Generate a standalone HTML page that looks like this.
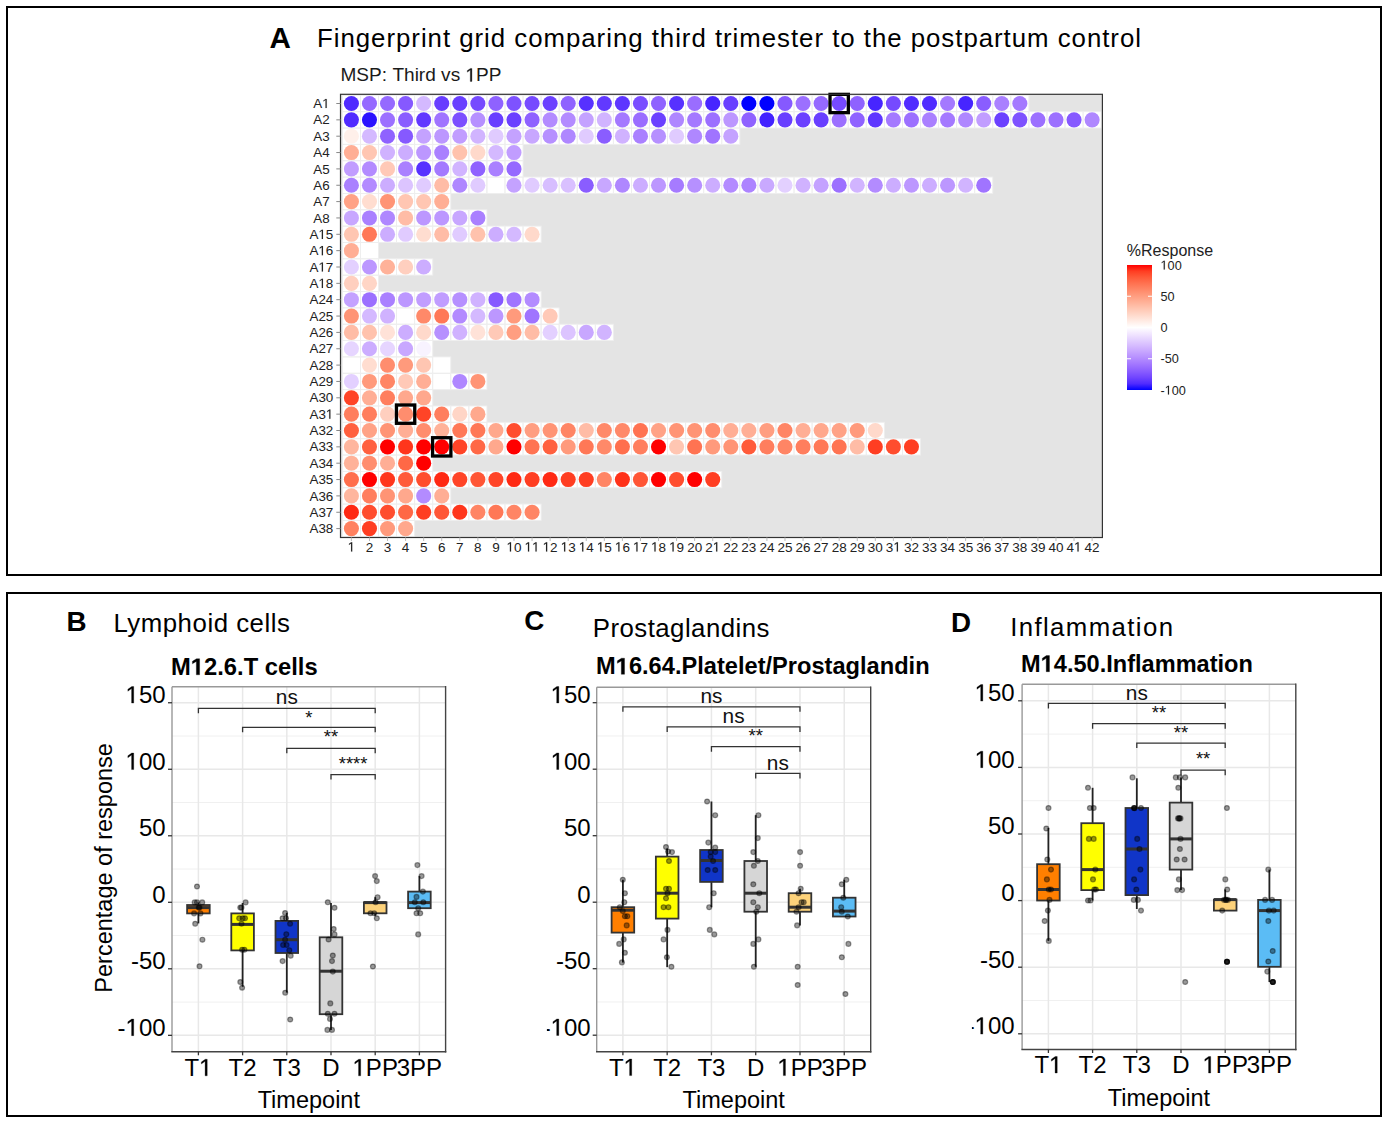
<!DOCTYPE html><html><head><meta charset="utf-8"><style>html,body{margin:0;padding:0;background:#fff;}svg{display:block;}text{font-family:"Liberation Sans",sans-serif;}</style></head><body>
<svg width="1389" height="1124" viewBox="0 0 1389 1124">
<defs><linearGradient id="lg" x1="0" y1="1" x2="0" y2="0">
<stop offset="0.000" stop-color="#0000ff"/>
<stop offset="0.050" stop-color="#502bff"/>
<stop offset="0.100" stop-color="#7145ff"/>
<stop offset="0.150" stop-color="#8a5dff"/>
<stop offset="0.200" stop-color="#a074ff"/>
<stop offset="0.250" stop-color="#b38bff"/>
<stop offset="0.300" stop-color="#c4a2ff"/>
<stop offset="0.350" stop-color="#d4b9ff"/>
<stop offset="0.400" stop-color="#e3d0ff"/>
<stop offset="0.450" stop-color="#f2e7ff"/>
<stop offset="0.500" stop-color="#ffffff"/>
<stop offset="0.550" stop-color="#ffece5"/>
<stop offset="0.600" stop-color="#ffd9cb"/>
<stop offset="0.650" stop-color="#ffc6b2"/>
<stop offset="0.700" stop-color="#ffb299"/>
<stop offset="0.750" stop-color="#ff9e81"/>
<stop offset="0.800" stop-color="#ff8969"/>
<stop offset="0.850" stop-color="#ff7352"/>
<stop offset="0.900" stop-color="#ff5b3a"/>
<stop offset="0.950" stop-color="#ff3e22"/>
<stop offset="1.000" stop-color="#ff0000"/>
</linearGradient></defs>
<rect x="0" y="0" width="1389" height="1124" fill="#fff"/>
<rect x="7" y="7" width="1374" height="568" fill="none" stroke="#000" stroke-width="2"/>
<rect x="7" y="593" width="1374" height="523" fill="none" stroke="#000" stroke-width="2"/>
<text x="269.5" y="47.6" font-size="29.6" font-weight="bold" fill="#000">A</text>
<text x="317" y="46.5" font-size="25.8" fill="#000" textLength="824" lengthAdjust="spacing">Fingerprint grid comparing third trimester to the postpartum control</text>
<g transform="translate(340.50,81.40) scale(1.0139,1)"><text x="0.00 15.66 28.20 40.74 51.19 62.67 73.13 77.30 83.56 99.24 108.64 133.72 146.26" y="0" font-size="18.8" fill="#1a1a1a">MSP:ThirdvsPP</text><path transform="translate(123.26,0) scale(0.00918,-0.00918)" d="M515 0L515 1237L197 1010L197 1180L530 1409L696 1409L696 0Z" fill="#1a1a1a" stroke="#1a1a1a" stroke-width="0.3" vector-effect="non-scaling-stroke"/></g>
<rect x="340.5" y="94.3" width="761.9000000000001" height="443.2" fill="#e4e4e4"/>
<rect x="342.37" y="95.33" width="686.51" height="16.35" fill="#fff"/>
<rect x="342.37" y="111.67" width="758.77" height="16.35" fill="#fff"/>
<rect x="342.37" y="128.02" width="397.45" height="16.35" fill="#fff"/>
<rect x="342.37" y="144.38" width="180.66" height="16.35" fill="#fff"/>
<rect x="342.37" y="160.72" width="180.66" height="16.35" fill="#fff"/>
<rect x="342.37" y="177.07" width="650.38" height="16.35" fill="#fff"/>
<rect x="342.37" y="193.43" width="108.40" height="16.35" fill="#fff"/>
<rect x="342.37" y="209.78" width="144.53" height="16.35" fill="#fff"/>
<rect x="342.37" y="226.12" width="198.73" height="16.35" fill="#fff"/>
<rect x="342.37" y="242.47" width="36.13" height="16.35" fill="#fff"/>
<rect x="342.37" y="258.82" width="90.33" height="16.35" fill="#fff"/>
<rect x="342.37" y="275.18" width="36.13" height="16.35" fill="#fff"/>
<rect x="342.37" y="291.53" width="198.73" height="16.35" fill="#fff"/>
<rect x="342.37" y="307.88" width="216.79" height="16.35" fill="#fff"/>
<rect x="342.37" y="324.23" width="270.99" height="16.35" fill="#fff"/>
<rect x="342.37" y="340.57" width="90.33" height="16.35" fill="#fff"/>
<rect x="342.37" y="356.93" width="108.40" height="16.35" fill="#fff"/>
<rect x="342.37" y="373.28" width="144.53" height="16.35" fill="#fff"/>
<rect x="342.37" y="389.62" width="90.33" height="16.35" fill="#fff"/>
<rect x="342.37" y="405.98" width="144.53" height="16.35" fill="#fff"/>
<rect x="342.37" y="422.32" width="541.98" height="16.35" fill="#fff"/>
<rect x="342.37" y="438.68" width="578.11" height="16.35" fill="#fff"/>
<rect x="342.37" y="455.03" width="90.33" height="16.35" fill="#fff"/>
<rect x="342.37" y="471.38" width="379.39" height="16.35" fill="#fff"/>
<rect x="342.37" y="487.73" width="108.40" height="16.35" fill="#fff"/>
<rect x="342.37" y="504.07" width="198.73" height="16.35" fill="#fff"/>
<rect x="342.37" y="520.43" width="72.26" height="16.35" fill="#fff"/>
<rect x="342.37" y="95.33" width="18.07" height="16.35" fill="none" stroke="#eeeeee" stroke-width="0.9"/>
<rect x="360.43" y="95.33" width="18.07" height="16.35" fill="none" stroke="#eeeeee" stroke-width="0.9"/>
<rect x="378.50" y="95.33" width="18.07" height="16.35" fill="none" stroke="#eeeeee" stroke-width="0.9"/>
<rect x="396.56" y="95.33" width="18.07" height="16.35" fill="none" stroke="#eeeeee" stroke-width="0.9"/>
<rect x="414.63" y="95.33" width="18.07" height="16.35" fill="none" stroke="#eeeeee" stroke-width="0.9"/>
<rect x="432.70" y="95.33" width="18.07" height="16.35" fill="none" stroke="#eeeeee" stroke-width="0.9"/>
<rect x="450.76" y="95.33" width="18.07" height="16.35" fill="none" stroke="#eeeeee" stroke-width="0.9"/>
<rect x="468.83" y="95.33" width="18.07" height="16.35" fill="none" stroke="#eeeeee" stroke-width="0.9"/>
<rect x="486.89" y="95.33" width="18.07" height="16.35" fill="none" stroke="#eeeeee" stroke-width="0.9"/>
<rect x="504.96" y="95.33" width="18.07" height="16.35" fill="none" stroke="#eeeeee" stroke-width="0.9"/>
<rect x="523.03" y="95.33" width="18.07" height="16.35" fill="none" stroke="#eeeeee" stroke-width="0.9"/>
<rect x="541.09" y="95.33" width="18.07" height="16.35" fill="none" stroke="#eeeeee" stroke-width="0.9"/>
<rect x="559.16" y="95.33" width="18.07" height="16.35" fill="none" stroke="#eeeeee" stroke-width="0.9"/>
<rect x="577.22" y="95.33" width="18.07" height="16.35" fill="none" stroke="#eeeeee" stroke-width="0.9"/>
<rect x="595.29" y="95.33" width="18.07" height="16.35" fill="none" stroke="#eeeeee" stroke-width="0.9"/>
<rect x="613.36" y="95.33" width="18.07" height="16.35" fill="none" stroke="#eeeeee" stroke-width="0.9"/>
<rect x="631.42" y="95.33" width="18.07" height="16.35" fill="none" stroke="#eeeeee" stroke-width="0.9"/>
<rect x="649.49" y="95.33" width="18.07" height="16.35" fill="none" stroke="#eeeeee" stroke-width="0.9"/>
<rect x="667.55" y="95.33" width="18.07" height="16.35" fill="none" stroke="#eeeeee" stroke-width="0.9"/>
<rect x="685.62" y="95.33" width="18.07" height="16.35" fill="none" stroke="#eeeeee" stroke-width="0.9"/>
<rect x="703.69" y="95.33" width="18.07" height="16.35" fill="none" stroke="#eeeeee" stroke-width="0.9"/>
<rect x="721.75" y="95.33" width="18.07" height="16.35" fill="none" stroke="#eeeeee" stroke-width="0.9"/>
<rect x="739.82" y="95.33" width="18.07" height="16.35" fill="none" stroke="#eeeeee" stroke-width="0.9"/>
<rect x="757.88" y="95.33" width="18.07" height="16.35" fill="none" stroke="#eeeeee" stroke-width="0.9"/>
<rect x="775.95" y="95.33" width="18.07" height="16.35" fill="none" stroke="#eeeeee" stroke-width="0.9"/>
<rect x="794.02" y="95.33" width="18.07" height="16.35" fill="none" stroke="#eeeeee" stroke-width="0.9"/>
<rect x="812.08" y="95.33" width="18.07" height="16.35" fill="none" stroke="#eeeeee" stroke-width="0.9"/>
<rect x="830.15" y="95.33" width="18.07" height="16.35" fill="none" stroke="#eeeeee" stroke-width="0.9"/>
<rect x="848.21" y="95.33" width="18.07" height="16.35" fill="none" stroke="#eeeeee" stroke-width="0.9"/>
<rect x="866.28" y="95.33" width="18.07" height="16.35" fill="none" stroke="#eeeeee" stroke-width="0.9"/>
<rect x="884.35" y="95.33" width="18.07" height="16.35" fill="none" stroke="#eeeeee" stroke-width="0.9"/>
<rect x="902.41" y="95.33" width="18.07" height="16.35" fill="none" stroke="#eeeeee" stroke-width="0.9"/>
<rect x="920.48" y="95.33" width="18.07" height="16.35" fill="none" stroke="#eeeeee" stroke-width="0.9"/>
<rect x="938.54" y="95.33" width="18.07" height="16.35" fill="none" stroke="#eeeeee" stroke-width="0.9"/>
<rect x="956.61" y="95.33" width="18.07" height="16.35" fill="none" stroke="#eeeeee" stroke-width="0.9"/>
<rect x="974.68" y="95.33" width="18.07" height="16.35" fill="none" stroke="#eeeeee" stroke-width="0.9"/>
<rect x="992.74" y="95.33" width="18.07" height="16.35" fill="none" stroke="#eeeeee" stroke-width="0.9"/>
<rect x="1010.81" y="95.33" width="18.07" height="16.35" fill="none" stroke="#eeeeee" stroke-width="0.9"/>
<rect x="342.37" y="111.67" width="18.07" height="16.35" fill="none" stroke="#eeeeee" stroke-width="0.9"/>
<rect x="360.43" y="111.67" width="18.07" height="16.35" fill="none" stroke="#eeeeee" stroke-width="0.9"/>
<rect x="378.50" y="111.67" width="18.07" height="16.35" fill="none" stroke="#eeeeee" stroke-width="0.9"/>
<rect x="396.56" y="111.67" width="18.07" height="16.35" fill="none" stroke="#eeeeee" stroke-width="0.9"/>
<rect x="414.63" y="111.67" width="18.07" height="16.35" fill="none" stroke="#eeeeee" stroke-width="0.9"/>
<rect x="432.70" y="111.67" width="18.07" height="16.35" fill="none" stroke="#eeeeee" stroke-width="0.9"/>
<rect x="450.76" y="111.67" width="18.07" height="16.35" fill="none" stroke="#eeeeee" stroke-width="0.9"/>
<rect x="468.83" y="111.67" width="18.07" height="16.35" fill="none" stroke="#eeeeee" stroke-width="0.9"/>
<rect x="486.89" y="111.67" width="18.07" height="16.35" fill="none" stroke="#eeeeee" stroke-width="0.9"/>
<rect x="504.96" y="111.67" width="18.07" height="16.35" fill="none" stroke="#eeeeee" stroke-width="0.9"/>
<rect x="523.03" y="111.67" width="18.07" height="16.35" fill="none" stroke="#eeeeee" stroke-width="0.9"/>
<rect x="541.09" y="111.67" width="18.07" height="16.35" fill="none" stroke="#eeeeee" stroke-width="0.9"/>
<rect x="559.16" y="111.67" width="18.07" height="16.35" fill="none" stroke="#eeeeee" stroke-width="0.9"/>
<rect x="577.22" y="111.67" width="18.07" height="16.35" fill="none" stroke="#eeeeee" stroke-width="0.9"/>
<rect x="595.29" y="111.67" width="18.07" height="16.35" fill="none" stroke="#eeeeee" stroke-width="0.9"/>
<rect x="613.36" y="111.67" width="18.07" height="16.35" fill="none" stroke="#eeeeee" stroke-width="0.9"/>
<rect x="631.42" y="111.67" width="18.07" height="16.35" fill="none" stroke="#eeeeee" stroke-width="0.9"/>
<rect x="649.49" y="111.67" width="18.07" height="16.35" fill="none" stroke="#eeeeee" stroke-width="0.9"/>
<rect x="667.55" y="111.67" width="18.07" height="16.35" fill="none" stroke="#eeeeee" stroke-width="0.9"/>
<rect x="685.62" y="111.67" width="18.07" height="16.35" fill="none" stroke="#eeeeee" stroke-width="0.9"/>
<rect x="703.69" y="111.67" width="18.07" height="16.35" fill="none" stroke="#eeeeee" stroke-width="0.9"/>
<rect x="721.75" y="111.67" width="18.07" height="16.35" fill="none" stroke="#eeeeee" stroke-width="0.9"/>
<rect x="739.82" y="111.67" width="18.07" height="16.35" fill="none" stroke="#eeeeee" stroke-width="0.9"/>
<rect x="757.88" y="111.67" width="18.07" height="16.35" fill="none" stroke="#eeeeee" stroke-width="0.9"/>
<rect x="775.95" y="111.67" width="18.07" height="16.35" fill="none" stroke="#eeeeee" stroke-width="0.9"/>
<rect x="794.02" y="111.67" width="18.07" height="16.35" fill="none" stroke="#eeeeee" stroke-width="0.9"/>
<rect x="812.08" y="111.67" width="18.07" height="16.35" fill="none" stroke="#eeeeee" stroke-width="0.9"/>
<rect x="830.15" y="111.67" width="18.07" height="16.35" fill="none" stroke="#eeeeee" stroke-width="0.9"/>
<rect x="848.21" y="111.67" width="18.07" height="16.35" fill="none" stroke="#eeeeee" stroke-width="0.9"/>
<rect x="866.28" y="111.67" width="18.07" height="16.35" fill="none" stroke="#eeeeee" stroke-width="0.9"/>
<rect x="884.35" y="111.67" width="18.07" height="16.35" fill="none" stroke="#eeeeee" stroke-width="0.9"/>
<rect x="902.41" y="111.67" width="18.07" height="16.35" fill="none" stroke="#eeeeee" stroke-width="0.9"/>
<rect x="920.48" y="111.67" width="18.07" height="16.35" fill="none" stroke="#eeeeee" stroke-width="0.9"/>
<rect x="938.54" y="111.67" width="18.07" height="16.35" fill="none" stroke="#eeeeee" stroke-width="0.9"/>
<rect x="956.61" y="111.67" width="18.07" height="16.35" fill="none" stroke="#eeeeee" stroke-width="0.9"/>
<rect x="974.68" y="111.67" width="18.07" height="16.35" fill="none" stroke="#eeeeee" stroke-width="0.9"/>
<rect x="992.74" y="111.67" width="18.07" height="16.35" fill="none" stroke="#eeeeee" stroke-width="0.9"/>
<rect x="1010.81" y="111.67" width="18.07" height="16.35" fill="none" stroke="#eeeeee" stroke-width="0.9"/>
<rect x="1028.88" y="111.67" width="18.07" height="16.35" fill="none" stroke="#eeeeee" stroke-width="0.9"/>
<rect x="1046.94" y="111.67" width="18.07" height="16.35" fill="none" stroke="#eeeeee" stroke-width="0.9"/>
<rect x="1065.01" y="111.67" width="18.07" height="16.35" fill="none" stroke="#eeeeee" stroke-width="0.9"/>
<rect x="1083.07" y="111.67" width="18.07" height="16.35" fill="none" stroke="#eeeeee" stroke-width="0.9"/>
<rect x="342.37" y="128.02" width="18.07" height="16.35" fill="none" stroke="#eeeeee" stroke-width="0.9"/>
<rect x="360.43" y="128.02" width="18.07" height="16.35" fill="none" stroke="#eeeeee" stroke-width="0.9"/>
<rect x="378.50" y="128.02" width="18.07" height="16.35" fill="none" stroke="#eeeeee" stroke-width="0.9"/>
<rect x="396.56" y="128.02" width="18.07" height="16.35" fill="none" stroke="#eeeeee" stroke-width="0.9"/>
<rect x="414.63" y="128.02" width="18.07" height="16.35" fill="none" stroke="#eeeeee" stroke-width="0.9"/>
<rect x="432.70" y="128.02" width="18.07" height="16.35" fill="none" stroke="#eeeeee" stroke-width="0.9"/>
<rect x="450.76" y="128.02" width="18.07" height="16.35" fill="none" stroke="#eeeeee" stroke-width="0.9"/>
<rect x="468.83" y="128.02" width="18.07" height="16.35" fill="none" stroke="#eeeeee" stroke-width="0.9"/>
<rect x="486.89" y="128.02" width="18.07" height="16.35" fill="none" stroke="#eeeeee" stroke-width="0.9"/>
<rect x="504.96" y="128.02" width="18.07" height="16.35" fill="none" stroke="#eeeeee" stroke-width="0.9"/>
<rect x="523.03" y="128.02" width="18.07" height="16.35" fill="none" stroke="#eeeeee" stroke-width="0.9"/>
<rect x="541.09" y="128.02" width="18.07" height="16.35" fill="none" stroke="#eeeeee" stroke-width="0.9"/>
<rect x="559.16" y="128.02" width="18.07" height="16.35" fill="none" stroke="#eeeeee" stroke-width="0.9"/>
<rect x="577.22" y="128.02" width="18.07" height="16.35" fill="none" stroke="#eeeeee" stroke-width="0.9"/>
<rect x="595.29" y="128.02" width="18.07" height="16.35" fill="none" stroke="#eeeeee" stroke-width="0.9"/>
<rect x="613.36" y="128.02" width="18.07" height="16.35" fill="none" stroke="#eeeeee" stroke-width="0.9"/>
<rect x="631.42" y="128.02" width="18.07" height="16.35" fill="none" stroke="#eeeeee" stroke-width="0.9"/>
<rect x="649.49" y="128.02" width="18.07" height="16.35" fill="none" stroke="#eeeeee" stroke-width="0.9"/>
<rect x="667.55" y="128.02" width="18.07" height="16.35" fill="none" stroke="#eeeeee" stroke-width="0.9"/>
<rect x="685.62" y="128.02" width="18.07" height="16.35" fill="none" stroke="#eeeeee" stroke-width="0.9"/>
<rect x="703.69" y="128.02" width="18.07" height="16.35" fill="none" stroke="#eeeeee" stroke-width="0.9"/>
<rect x="721.75" y="128.02" width="18.07" height="16.35" fill="none" stroke="#eeeeee" stroke-width="0.9"/>
<rect x="342.37" y="144.38" width="18.07" height="16.35" fill="none" stroke="#eeeeee" stroke-width="0.9"/>
<rect x="360.43" y="144.38" width="18.07" height="16.35" fill="none" stroke="#eeeeee" stroke-width="0.9"/>
<rect x="378.50" y="144.38" width="18.07" height="16.35" fill="none" stroke="#eeeeee" stroke-width="0.9"/>
<rect x="396.56" y="144.38" width="18.07" height="16.35" fill="none" stroke="#eeeeee" stroke-width="0.9"/>
<rect x="414.63" y="144.38" width="18.07" height="16.35" fill="none" stroke="#eeeeee" stroke-width="0.9"/>
<rect x="432.70" y="144.38" width="18.07" height="16.35" fill="none" stroke="#eeeeee" stroke-width="0.9"/>
<rect x="450.76" y="144.38" width="18.07" height="16.35" fill="none" stroke="#eeeeee" stroke-width="0.9"/>
<rect x="468.83" y="144.38" width="18.07" height="16.35" fill="none" stroke="#eeeeee" stroke-width="0.9"/>
<rect x="486.89" y="144.38" width="18.07" height="16.35" fill="none" stroke="#eeeeee" stroke-width="0.9"/>
<rect x="504.96" y="144.38" width="18.07" height="16.35" fill="none" stroke="#eeeeee" stroke-width="0.9"/>
<rect x="342.37" y="160.72" width="18.07" height="16.35" fill="none" stroke="#eeeeee" stroke-width="0.9"/>
<rect x="360.43" y="160.72" width="18.07" height="16.35" fill="none" stroke="#eeeeee" stroke-width="0.9"/>
<rect x="378.50" y="160.72" width="18.07" height="16.35" fill="none" stroke="#eeeeee" stroke-width="0.9"/>
<rect x="396.56" y="160.72" width="18.07" height="16.35" fill="none" stroke="#eeeeee" stroke-width="0.9"/>
<rect x="414.63" y="160.72" width="18.07" height="16.35" fill="none" stroke="#eeeeee" stroke-width="0.9"/>
<rect x="432.70" y="160.72" width="18.07" height="16.35" fill="none" stroke="#eeeeee" stroke-width="0.9"/>
<rect x="450.76" y="160.72" width="18.07" height="16.35" fill="none" stroke="#eeeeee" stroke-width="0.9"/>
<rect x="468.83" y="160.72" width="18.07" height="16.35" fill="none" stroke="#eeeeee" stroke-width="0.9"/>
<rect x="486.89" y="160.72" width="18.07" height="16.35" fill="none" stroke="#eeeeee" stroke-width="0.9"/>
<rect x="504.96" y="160.72" width="18.07" height="16.35" fill="none" stroke="#eeeeee" stroke-width="0.9"/>
<rect x="342.37" y="177.07" width="18.07" height="16.35" fill="none" stroke="#eeeeee" stroke-width="0.9"/>
<rect x="360.43" y="177.07" width="18.07" height="16.35" fill="none" stroke="#eeeeee" stroke-width="0.9"/>
<rect x="378.50" y="177.07" width="18.07" height="16.35" fill="none" stroke="#eeeeee" stroke-width="0.9"/>
<rect x="396.56" y="177.07" width="18.07" height="16.35" fill="none" stroke="#eeeeee" stroke-width="0.9"/>
<rect x="414.63" y="177.07" width="18.07" height="16.35" fill="none" stroke="#eeeeee" stroke-width="0.9"/>
<rect x="432.70" y="177.07" width="18.07" height="16.35" fill="none" stroke="#eeeeee" stroke-width="0.9"/>
<rect x="450.76" y="177.07" width="18.07" height="16.35" fill="none" stroke="#eeeeee" stroke-width="0.9"/>
<rect x="468.83" y="177.07" width="18.07" height="16.35" fill="none" stroke="#eeeeee" stroke-width="0.9"/>
<rect x="486.89" y="177.07" width="18.07" height="16.35" fill="none" stroke="#eeeeee" stroke-width="0.9"/>
<rect x="504.96" y="177.07" width="18.07" height="16.35" fill="none" stroke="#eeeeee" stroke-width="0.9"/>
<rect x="523.03" y="177.07" width="18.07" height="16.35" fill="none" stroke="#eeeeee" stroke-width="0.9"/>
<rect x="541.09" y="177.07" width="18.07" height="16.35" fill="none" stroke="#eeeeee" stroke-width="0.9"/>
<rect x="559.16" y="177.07" width="18.07" height="16.35" fill="none" stroke="#eeeeee" stroke-width="0.9"/>
<rect x="577.22" y="177.07" width="18.07" height="16.35" fill="none" stroke="#eeeeee" stroke-width="0.9"/>
<rect x="595.29" y="177.07" width="18.07" height="16.35" fill="none" stroke="#eeeeee" stroke-width="0.9"/>
<rect x="613.36" y="177.07" width="18.07" height="16.35" fill="none" stroke="#eeeeee" stroke-width="0.9"/>
<rect x="631.42" y="177.07" width="18.07" height="16.35" fill="none" stroke="#eeeeee" stroke-width="0.9"/>
<rect x="649.49" y="177.07" width="18.07" height="16.35" fill="none" stroke="#eeeeee" stroke-width="0.9"/>
<rect x="667.55" y="177.07" width="18.07" height="16.35" fill="none" stroke="#eeeeee" stroke-width="0.9"/>
<rect x="685.62" y="177.07" width="18.07" height="16.35" fill="none" stroke="#eeeeee" stroke-width="0.9"/>
<rect x="703.69" y="177.07" width="18.07" height="16.35" fill="none" stroke="#eeeeee" stroke-width="0.9"/>
<rect x="721.75" y="177.07" width="18.07" height="16.35" fill="none" stroke="#eeeeee" stroke-width="0.9"/>
<rect x="739.82" y="177.07" width="18.07" height="16.35" fill="none" stroke="#eeeeee" stroke-width="0.9"/>
<rect x="757.88" y="177.07" width="18.07" height="16.35" fill="none" stroke="#eeeeee" stroke-width="0.9"/>
<rect x="775.95" y="177.07" width="18.07" height="16.35" fill="none" stroke="#eeeeee" stroke-width="0.9"/>
<rect x="794.02" y="177.07" width="18.07" height="16.35" fill="none" stroke="#eeeeee" stroke-width="0.9"/>
<rect x="812.08" y="177.07" width="18.07" height="16.35" fill="none" stroke="#eeeeee" stroke-width="0.9"/>
<rect x="830.15" y="177.07" width="18.07" height="16.35" fill="none" stroke="#eeeeee" stroke-width="0.9"/>
<rect x="848.21" y="177.07" width="18.07" height="16.35" fill="none" stroke="#eeeeee" stroke-width="0.9"/>
<rect x="866.28" y="177.07" width="18.07" height="16.35" fill="none" stroke="#eeeeee" stroke-width="0.9"/>
<rect x="884.35" y="177.07" width="18.07" height="16.35" fill="none" stroke="#eeeeee" stroke-width="0.9"/>
<rect x="902.41" y="177.07" width="18.07" height="16.35" fill="none" stroke="#eeeeee" stroke-width="0.9"/>
<rect x="920.48" y="177.07" width="18.07" height="16.35" fill="none" stroke="#eeeeee" stroke-width="0.9"/>
<rect x="938.54" y="177.07" width="18.07" height="16.35" fill="none" stroke="#eeeeee" stroke-width="0.9"/>
<rect x="956.61" y="177.07" width="18.07" height="16.35" fill="none" stroke="#eeeeee" stroke-width="0.9"/>
<rect x="974.68" y="177.07" width="18.07" height="16.35" fill="none" stroke="#eeeeee" stroke-width="0.9"/>
<rect x="342.37" y="193.43" width="18.07" height="16.35" fill="none" stroke="#eeeeee" stroke-width="0.9"/>
<rect x="360.43" y="193.43" width="18.07" height="16.35" fill="none" stroke="#eeeeee" stroke-width="0.9"/>
<rect x="378.50" y="193.43" width="18.07" height="16.35" fill="none" stroke="#eeeeee" stroke-width="0.9"/>
<rect x="396.56" y="193.43" width="18.07" height="16.35" fill="none" stroke="#eeeeee" stroke-width="0.9"/>
<rect x="414.63" y="193.43" width="18.07" height="16.35" fill="none" stroke="#eeeeee" stroke-width="0.9"/>
<rect x="432.70" y="193.43" width="18.07" height="16.35" fill="none" stroke="#eeeeee" stroke-width="0.9"/>
<rect x="342.37" y="209.78" width="18.07" height="16.35" fill="none" stroke="#eeeeee" stroke-width="0.9"/>
<rect x="360.43" y="209.78" width="18.07" height="16.35" fill="none" stroke="#eeeeee" stroke-width="0.9"/>
<rect x="378.50" y="209.78" width="18.07" height="16.35" fill="none" stroke="#eeeeee" stroke-width="0.9"/>
<rect x="396.56" y="209.78" width="18.07" height="16.35" fill="none" stroke="#eeeeee" stroke-width="0.9"/>
<rect x="414.63" y="209.78" width="18.07" height="16.35" fill="none" stroke="#eeeeee" stroke-width="0.9"/>
<rect x="432.70" y="209.78" width="18.07" height="16.35" fill="none" stroke="#eeeeee" stroke-width="0.9"/>
<rect x="450.76" y="209.78" width="18.07" height="16.35" fill="none" stroke="#eeeeee" stroke-width="0.9"/>
<rect x="468.83" y="209.78" width="18.07" height="16.35" fill="none" stroke="#eeeeee" stroke-width="0.9"/>
<rect x="342.37" y="226.12" width="18.07" height="16.35" fill="none" stroke="#eeeeee" stroke-width="0.9"/>
<rect x="360.43" y="226.12" width="18.07" height="16.35" fill="none" stroke="#eeeeee" stroke-width="0.9"/>
<rect x="378.50" y="226.12" width="18.07" height="16.35" fill="none" stroke="#eeeeee" stroke-width="0.9"/>
<rect x="396.56" y="226.12" width="18.07" height="16.35" fill="none" stroke="#eeeeee" stroke-width="0.9"/>
<rect x="414.63" y="226.12" width="18.07" height="16.35" fill="none" stroke="#eeeeee" stroke-width="0.9"/>
<rect x="432.70" y="226.12" width="18.07" height="16.35" fill="none" stroke="#eeeeee" stroke-width="0.9"/>
<rect x="450.76" y="226.12" width="18.07" height="16.35" fill="none" stroke="#eeeeee" stroke-width="0.9"/>
<rect x="468.83" y="226.12" width="18.07" height="16.35" fill="none" stroke="#eeeeee" stroke-width="0.9"/>
<rect x="486.89" y="226.12" width="18.07" height="16.35" fill="none" stroke="#eeeeee" stroke-width="0.9"/>
<rect x="504.96" y="226.12" width="18.07" height="16.35" fill="none" stroke="#eeeeee" stroke-width="0.9"/>
<rect x="523.03" y="226.12" width="18.07" height="16.35" fill="none" stroke="#eeeeee" stroke-width="0.9"/>
<rect x="342.37" y="242.47" width="18.07" height="16.35" fill="none" stroke="#eeeeee" stroke-width="0.9"/>
<rect x="360.43" y="242.47" width="18.07" height="16.35" fill="none" stroke="#eeeeee" stroke-width="0.9"/>
<rect x="342.37" y="258.82" width="18.07" height="16.35" fill="none" stroke="#eeeeee" stroke-width="0.9"/>
<rect x="360.43" y="258.82" width="18.07" height="16.35" fill="none" stroke="#eeeeee" stroke-width="0.9"/>
<rect x="378.50" y="258.82" width="18.07" height="16.35" fill="none" stroke="#eeeeee" stroke-width="0.9"/>
<rect x="396.56" y="258.82" width="18.07" height="16.35" fill="none" stroke="#eeeeee" stroke-width="0.9"/>
<rect x="414.63" y="258.82" width="18.07" height="16.35" fill="none" stroke="#eeeeee" stroke-width="0.9"/>
<rect x="342.37" y="275.18" width="18.07" height="16.35" fill="none" stroke="#eeeeee" stroke-width="0.9"/>
<rect x="360.43" y="275.18" width="18.07" height="16.35" fill="none" stroke="#eeeeee" stroke-width="0.9"/>
<rect x="342.37" y="291.53" width="18.07" height="16.35" fill="none" stroke="#eeeeee" stroke-width="0.9"/>
<rect x="360.43" y="291.53" width="18.07" height="16.35" fill="none" stroke="#eeeeee" stroke-width="0.9"/>
<rect x="378.50" y="291.53" width="18.07" height="16.35" fill="none" stroke="#eeeeee" stroke-width="0.9"/>
<rect x="396.56" y="291.53" width="18.07" height="16.35" fill="none" stroke="#eeeeee" stroke-width="0.9"/>
<rect x="414.63" y="291.53" width="18.07" height="16.35" fill="none" stroke="#eeeeee" stroke-width="0.9"/>
<rect x="432.70" y="291.53" width="18.07" height="16.35" fill="none" stroke="#eeeeee" stroke-width="0.9"/>
<rect x="450.76" y="291.53" width="18.07" height="16.35" fill="none" stroke="#eeeeee" stroke-width="0.9"/>
<rect x="468.83" y="291.53" width="18.07" height="16.35" fill="none" stroke="#eeeeee" stroke-width="0.9"/>
<rect x="486.89" y="291.53" width="18.07" height="16.35" fill="none" stroke="#eeeeee" stroke-width="0.9"/>
<rect x="504.96" y="291.53" width="18.07" height="16.35" fill="none" stroke="#eeeeee" stroke-width="0.9"/>
<rect x="523.03" y="291.53" width="18.07" height="16.35" fill="none" stroke="#eeeeee" stroke-width="0.9"/>
<rect x="342.37" y="307.88" width="18.07" height="16.35" fill="none" stroke="#eeeeee" stroke-width="0.9"/>
<rect x="360.43" y="307.88" width="18.07" height="16.35" fill="none" stroke="#eeeeee" stroke-width="0.9"/>
<rect x="378.50" y="307.88" width="18.07" height="16.35" fill="none" stroke="#eeeeee" stroke-width="0.9"/>
<rect x="396.56" y="307.88" width="18.07" height="16.35" fill="none" stroke="#eeeeee" stroke-width="0.9"/>
<rect x="414.63" y="307.88" width="18.07" height="16.35" fill="none" stroke="#eeeeee" stroke-width="0.9"/>
<rect x="432.70" y="307.88" width="18.07" height="16.35" fill="none" stroke="#eeeeee" stroke-width="0.9"/>
<rect x="450.76" y="307.88" width="18.07" height="16.35" fill="none" stroke="#eeeeee" stroke-width="0.9"/>
<rect x="468.83" y="307.88" width="18.07" height="16.35" fill="none" stroke="#eeeeee" stroke-width="0.9"/>
<rect x="486.89" y="307.88" width="18.07" height="16.35" fill="none" stroke="#eeeeee" stroke-width="0.9"/>
<rect x="504.96" y="307.88" width="18.07" height="16.35" fill="none" stroke="#eeeeee" stroke-width="0.9"/>
<rect x="523.03" y="307.88" width="18.07" height="16.35" fill="none" stroke="#eeeeee" stroke-width="0.9"/>
<rect x="541.09" y="307.88" width="18.07" height="16.35" fill="none" stroke="#eeeeee" stroke-width="0.9"/>
<rect x="342.37" y="324.23" width="18.07" height="16.35" fill="none" stroke="#eeeeee" stroke-width="0.9"/>
<rect x="360.43" y="324.23" width="18.07" height="16.35" fill="none" stroke="#eeeeee" stroke-width="0.9"/>
<rect x="378.50" y="324.23" width="18.07" height="16.35" fill="none" stroke="#eeeeee" stroke-width="0.9"/>
<rect x="396.56" y="324.23" width="18.07" height="16.35" fill="none" stroke="#eeeeee" stroke-width="0.9"/>
<rect x="414.63" y="324.23" width="18.07" height="16.35" fill="none" stroke="#eeeeee" stroke-width="0.9"/>
<rect x="432.70" y="324.23" width="18.07" height="16.35" fill="none" stroke="#eeeeee" stroke-width="0.9"/>
<rect x="450.76" y="324.23" width="18.07" height="16.35" fill="none" stroke="#eeeeee" stroke-width="0.9"/>
<rect x="468.83" y="324.23" width="18.07" height="16.35" fill="none" stroke="#eeeeee" stroke-width="0.9"/>
<rect x="486.89" y="324.23" width="18.07" height="16.35" fill="none" stroke="#eeeeee" stroke-width="0.9"/>
<rect x="504.96" y="324.23" width="18.07" height="16.35" fill="none" stroke="#eeeeee" stroke-width="0.9"/>
<rect x="523.03" y="324.23" width="18.07" height="16.35" fill="none" stroke="#eeeeee" stroke-width="0.9"/>
<rect x="541.09" y="324.23" width="18.07" height="16.35" fill="none" stroke="#eeeeee" stroke-width="0.9"/>
<rect x="559.16" y="324.23" width="18.07" height="16.35" fill="none" stroke="#eeeeee" stroke-width="0.9"/>
<rect x="577.22" y="324.23" width="18.07" height="16.35" fill="none" stroke="#eeeeee" stroke-width="0.9"/>
<rect x="595.29" y="324.23" width="18.07" height="16.35" fill="none" stroke="#eeeeee" stroke-width="0.9"/>
<rect x="342.37" y="340.57" width="18.07" height="16.35" fill="none" stroke="#eeeeee" stroke-width="0.9"/>
<rect x="360.43" y="340.57" width="18.07" height="16.35" fill="none" stroke="#eeeeee" stroke-width="0.9"/>
<rect x="378.50" y="340.57" width="18.07" height="16.35" fill="none" stroke="#eeeeee" stroke-width="0.9"/>
<rect x="396.56" y="340.57" width="18.07" height="16.35" fill="none" stroke="#eeeeee" stroke-width="0.9"/>
<rect x="414.63" y="340.57" width="18.07" height="16.35" fill="none" stroke="#eeeeee" stroke-width="0.9"/>
<rect x="342.37" y="356.93" width="18.07" height="16.35" fill="none" stroke="#eeeeee" stroke-width="0.9"/>
<rect x="360.43" y="356.93" width="18.07" height="16.35" fill="none" stroke="#eeeeee" stroke-width="0.9"/>
<rect x="378.50" y="356.93" width="18.07" height="16.35" fill="none" stroke="#eeeeee" stroke-width="0.9"/>
<rect x="396.56" y="356.93" width="18.07" height="16.35" fill="none" stroke="#eeeeee" stroke-width="0.9"/>
<rect x="414.63" y="356.93" width="18.07" height="16.35" fill="none" stroke="#eeeeee" stroke-width="0.9"/>
<rect x="432.70" y="356.93" width="18.07" height="16.35" fill="none" stroke="#eeeeee" stroke-width="0.9"/>
<rect x="342.37" y="373.28" width="18.07" height="16.35" fill="none" stroke="#eeeeee" stroke-width="0.9"/>
<rect x="360.43" y="373.28" width="18.07" height="16.35" fill="none" stroke="#eeeeee" stroke-width="0.9"/>
<rect x="378.50" y="373.28" width="18.07" height="16.35" fill="none" stroke="#eeeeee" stroke-width="0.9"/>
<rect x="396.56" y="373.28" width="18.07" height="16.35" fill="none" stroke="#eeeeee" stroke-width="0.9"/>
<rect x="414.63" y="373.28" width="18.07" height="16.35" fill="none" stroke="#eeeeee" stroke-width="0.9"/>
<rect x="432.70" y="373.28" width="18.07" height="16.35" fill="none" stroke="#eeeeee" stroke-width="0.9"/>
<rect x="450.76" y="373.28" width="18.07" height="16.35" fill="none" stroke="#eeeeee" stroke-width="0.9"/>
<rect x="468.83" y="373.28" width="18.07" height="16.35" fill="none" stroke="#eeeeee" stroke-width="0.9"/>
<rect x="342.37" y="389.62" width="18.07" height="16.35" fill="none" stroke="#eeeeee" stroke-width="0.9"/>
<rect x="360.43" y="389.62" width="18.07" height="16.35" fill="none" stroke="#eeeeee" stroke-width="0.9"/>
<rect x="378.50" y="389.62" width="18.07" height="16.35" fill="none" stroke="#eeeeee" stroke-width="0.9"/>
<rect x="396.56" y="389.62" width="18.07" height="16.35" fill="none" stroke="#eeeeee" stroke-width="0.9"/>
<rect x="414.63" y="389.62" width="18.07" height="16.35" fill="none" stroke="#eeeeee" stroke-width="0.9"/>
<rect x="342.37" y="405.98" width="18.07" height="16.35" fill="none" stroke="#eeeeee" stroke-width="0.9"/>
<rect x="360.43" y="405.98" width="18.07" height="16.35" fill="none" stroke="#eeeeee" stroke-width="0.9"/>
<rect x="378.50" y="405.98" width="18.07" height="16.35" fill="none" stroke="#eeeeee" stroke-width="0.9"/>
<rect x="396.56" y="405.98" width="18.07" height="16.35" fill="none" stroke="#eeeeee" stroke-width="0.9"/>
<rect x="414.63" y="405.98" width="18.07" height="16.35" fill="none" stroke="#eeeeee" stroke-width="0.9"/>
<rect x="432.70" y="405.98" width="18.07" height="16.35" fill="none" stroke="#eeeeee" stroke-width="0.9"/>
<rect x="450.76" y="405.98" width="18.07" height="16.35" fill="none" stroke="#eeeeee" stroke-width="0.9"/>
<rect x="468.83" y="405.98" width="18.07" height="16.35" fill="none" stroke="#eeeeee" stroke-width="0.9"/>
<rect x="342.37" y="422.32" width="18.07" height="16.35" fill="none" stroke="#eeeeee" stroke-width="0.9"/>
<rect x="360.43" y="422.32" width="18.07" height="16.35" fill="none" stroke="#eeeeee" stroke-width="0.9"/>
<rect x="378.50" y="422.32" width="18.07" height="16.35" fill="none" stroke="#eeeeee" stroke-width="0.9"/>
<rect x="396.56" y="422.32" width="18.07" height="16.35" fill="none" stroke="#eeeeee" stroke-width="0.9"/>
<rect x="414.63" y="422.32" width="18.07" height="16.35" fill="none" stroke="#eeeeee" stroke-width="0.9"/>
<rect x="432.70" y="422.32" width="18.07" height="16.35" fill="none" stroke="#eeeeee" stroke-width="0.9"/>
<rect x="450.76" y="422.32" width="18.07" height="16.35" fill="none" stroke="#eeeeee" stroke-width="0.9"/>
<rect x="468.83" y="422.32" width="18.07" height="16.35" fill="none" stroke="#eeeeee" stroke-width="0.9"/>
<rect x="486.89" y="422.32" width="18.07" height="16.35" fill="none" stroke="#eeeeee" stroke-width="0.9"/>
<rect x="504.96" y="422.32" width="18.07" height="16.35" fill="none" stroke="#eeeeee" stroke-width="0.9"/>
<rect x="523.03" y="422.32" width="18.07" height="16.35" fill="none" stroke="#eeeeee" stroke-width="0.9"/>
<rect x="541.09" y="422.32" width="18.07" height="16.35" fill="none" stroke="#eeeeee" stroke-width="0.9"/>
<rect x="559.16" y="422.32" width="18.07" height="16.35" fill="none" stroke="#eeeeee" stroke-width="0.9"/>
<rect x="577.22" y="422.32" width="18.07" height="16.35" fill="none" stroke="#eeeeee" stroke-width="0.9"/>
<rect x="595.29" y="422.32" width="18.07" height="16.35" fill="none" stroke="#eeeeee" stroke-width="0.9"/>
<rect x="613.36" y="422.32" width="18.07" height="16.35" fill="none" stroke="#eeeeee" stroke-width="0.9"/>
<rect x="631.42" y="422.32" width="18.07" height="16.35" fill="none" stroke="#eeeeee" stroke-width="0.9"/>
<rect x="649.49" y="422.32" width="18.07" height="16.35" fill="none" stroke="#eeeeee" stroke-width="0.9"/>
<rect x="667.55" y="422.32" width="18.07" height="16.35" fill="none" stroke="#eeeeee" stroke-width="0.9"/>
<rect x="685.62" y="422.32" width="18.07" height="16.35" fill="none" stroke="#eeeeee" stroke-width="0.9"/>
<rect x="703.69" y="422.32" width="18.07" height="16.35" fill="none" stroke="#eeeeee" stroke-width="0.9"/>
<rect x="721.75" y="422.32" width="18.07" height="16.35" fill="none" stroke="#eeeeee" stroke-width="0.9"/>
<rect x="739.82" y="422.32" width="18.07" height="16.35" fill="none" stroke="#eeeeee" stroke-width="0.9"/>
<rect x="757.88" y="422.32" width="18.07" height="16.35" fill="none" stroke="#eeeeee" stroke-width="0.9"/>
<rect x="775.95" y="422.32" width="18.07" height="16.35" fill="none" stroke="#eeeeee" stroke-width="0.9"/>
<rect x="794.02" y="422.32" width="18.07" height="16.35" fill="none" stroke="#eeeeee" stroke-width="0.9"/>
<rect x="812.08" y="422.32" width="18.07" height="16.35" fill="none" stroke="#eeeeee" stroke-width="0.9"/>
<rect x="830.15" y="422.32" width="18.07" height="16.35" fill="none" stroke="#eeeeee" stroke-width="0.9"/>
<rect x="848.21" y="422.32" width="18.07" height="16.35" fill="none" stroke="#eeeeee" stroke-width="0.9"/>
<rect x="866.28" y="422.32" width="18.07" height="16.35" fill="none" stroke="#eeeeee" stroke-width="0.9"/>
<rect x="342.37" y="438.68" width="18.07" height="16.35" fill="none" stroke="#eeeeee" stroke-width="0.9"/>
<rect x="360.43" y="438.68" width="18.07" height="16.35" fill="none" stroke="#eeeeee" stroke-width="0.9"/>
<rect x="378.50" y="438.68" width="18.07" height="16.35" fill="none" stroke="#eeeeee" stroke-width="0.9"/>
<rect x="396.56" y="438.68" width="18.07" height="16.35" fill="none" stroke="#eeeeee" stroke-width="0.9"/>
<rect x="414.63" y="438.68" width="18.07" height="16.35" fill="none" stroke="#eeeeee" stroke-width="0.9"/>
<rect x="432.70" y="438.68" width="18.07" height="16.35" fill="none" stroke="#eeeeee" stroke-width="0.9"/>
<rect x="450.76" y="438.68" width="18.07" height="16.35" fill="none" stroke="#eeeeee" stroke-width="0.9"/>
<rect x="468.83" y="438.68" width="18.07" height="16.35" fill="none" stroke="#eeeeee" stroke-width="0.9"/>
<rect x="486.89" y="438.68" width="18.07" height="16.35" fill="none" stroke="#eeeeee" stroke-width="0.9"/>
<rect x="504.96" y="438.68" width="18.07" height="16.35" fill="none" stroke="#eeeeee" stroke-width="0.9"/>
<rect x="523.03" y="438.68" width="18.07" height="16.35" fill="none" stroke="#eeeeee" stroke-width="0.9"/>
<rect x="541.09" y="438.68" width="18.07" height="16.35" fill="none" stroke="#eeeeee" stroke-width="0.9"/>
<rect x="559.16" y="438.68" width="18.07" height="16.35" fill="none" stroke="#eeeeee" stroke-width="0.9"/>
<rect x="577.22" y="438.68" width="18.07" height="16.35" fill="none" stroke="#eeeeee" stroke-width="0.9"/>
<rect x="595.29" y="438.68" width="18.07" height="16.35" fill="none" stroke="#eeeeee" stroke-width="0.9"/>
<rect x="613.36" y="438.68" width="18.07" height="16.35" fill="none" stroke="#eeeeee" stroke-width="0.9"/>
<rect x="631.42" y="438.68" width="18.07" height="16.35" fill="none" stroke="#eeeeee" stroke-width="0.9"/>
<rect x="649.49" y="438.68" width="18.07" height="16.35" fill="none" stroke="#eeeeee" stroke-width="0.9"/>
<rect x="667.55" y="438.68" width="18.07" height="16.35" fill="none" stroke="#eeeeee" stroke-width="0.9"/>
<rect x="685.62" y="438.68" width="18.07" height="16.35" fill="none" stroke="#eeeeee" stroke-width="0.9"/>
<rect x="703.69" y="438.68" width="18.07" height="16.35" fill="none" stroke="#eeeeee" stroke-width="0.9"/>
<rect x="721.75" y="438.68" width="18.07" height="16.35" fill="none" stroke="#eeeeee" stroke-width="0.9"/>
<rect x="739.82" y="438.68" width="18.07" height="16.35" fill="none" stroke="#eeeeee" stroke-width="0.9"/>
<rect x="757.88" y="438.68" width="18.07" height="16.35" fill="none" stroke="#eeeeee" stroke-width="0.9"/>
<rect x="775.95" y="438.68" width="18.07" height="16.35" fill="none" stroke="#eeeeee" stroke-width="0.9"/>
<rect x="794.02" y="438.68" width="18.07" height="16.35" fill="none" stroke="#eeeeee" stroke-width="0.9"/>
<rect x="812.08" y="438.68" width="18.07" height="16.35" fill="none" stroke="#eeeeee" stroke-width="0.9"/>
<rect x="830.15" y="438.68" width="18.07" height="16.35" fill="none" stroke="#eeeeee" stroke-width="0.9"/>
<rect x="848.21" y="438.68" width="18.07" height="16.35" fill="none" stroke="#eeeeee" stroke-width="0.9"/>
<rect x="866.28" y="438.68" width="18.07" height="16.35" fill="none" stroke="#eeeeee" stroke-width="0.9"/>
<rect x="884.35" y="438.68" width="18.07" height="16.35" fill="none" stroke="#eeeeee" stroke-width="0.9"/>
<rect x="902.41" y="438.68" width="18.07" height="16.35" fill="none" stroke="#eeeeee" stroke-width="0.9"/>
<rect x="342.37" y="455.03" width="18.07" height="16.35" fill="none" stroke="#eeeeee" stroke-width="0.9"/>
<rect x="360.43" y="455.03" width="18.07" height="16.35" fill="none" stroke="#eeeeee" stroke-width="0.9"/>
<rect x="378.50" y="455.03" width="18.07" height="16.35" fill="none" stroke="#eeeeee" stroke-width="0.9"/>
<rect x="396.56" y="455.03" width="18.07" height="16.35" fill="none" stroke="#eeeeee" stroke-width="0.9"/>
<rect x="414.63" y="455.03" width="18.07" height="16.35" fill="none" stroke="#eeeeee" stroke-width="0.9"/>
<rect x="342.37" y="471.38" width="18.07" height="16.35" fill="none" stroke="#eeeeee" stroke-width="0.9"/>
<rect x="360.43" y="471.38" width="18.07" height="16.35" fill="none" stroke="#eeeeee" stroke-width="0.9"/>
<rect x="378.50" y="471.38" width="18.07" height="16.35" fill="none" stroke="#eeeeee" stroke-width="0.9"/>
<rect x="396.56" y="471.38" width="18.07" height="16.35" fill="none" stroke="#eeeeee" stroke-width="0.9"/>
<rect x="414.63" y="471.38" width="18.07" height="16.35" fill="none" stroke="#eeeeee" stroke-width="0.9"/>
<rect x="432.70" y="471.38" width="18.07" height="16.35" fill="none" stroke="#eeeeee" stroke-width="0.9"/>
<rect x="450.76" y="471.38" width="18.07" height="16.35" fill="none" stroke="#eeeeee" stroke-width="0.9"/>
<rect x="468.83" y="471.38" width="18.07" height="16.35" fill="none" stroke="#eeeeee" stroke-width="0.9"/>
<rect x="486.89" y="471.38" width="18.07" height="16.35" fill="none" stroke="#eeeeee" stroke-width="0.9"/>
<rect x="504.96" y="471.38" width="18.07" height="16.35" fill="none" stroke="#eeeeee" stroke-width="0.9"/>
<rect x="523.03" y="471.38" width="18.07" height="16.35" fill="none" stroke="#eeeeee" stroke-width="0.9"/>
<rect x="541.09" y="471.38" width="18.07" height="16.35" fill="none" stroke="#eeeeee" stroke-width="0.9"/>
<rect x="559.16" y="471.38" width="18.07" height="16.35" fill="none" stroke="#eeeeee" stroke-width="0.9"/>
<rect x="577.22" y="471.38" width="18.07" height="16.35" fill="none" stroke="#eeeeee" stroke-width="0.9"/>
<rect x="595.29" y="471.38" width="18.07" height="16.35" fill="none" stroke="#eeeeee" stroke-width="0.9"/>
<rect x="613.36" y="471.38" width="18.07" height="16.35" fill="none" stroke="#eeeeee" stroke-width="0.9"/>
<rect x="631.42" y="471.38" width="18.07" height="16.35" fill="none" stroke="#eeeeee" stroke-width="0.9"/>
<rect x="649.49" y="471.38" width="18.07" height="16.35" fill="none" stroke="#eeeeee" stroke-width="0.9"/>
<rect x="667.55" y="471.38" width="18.07" height="16.35" fill="none" stroke="#eeeeee" stroke-width="0.9"/>
<rect x="685.62" y="471.38" width="18.07" height="16.35" fill="none" stroke="#eeeeee" stroke-width="0.9"/>
<rect x="703.69" y="471.38" width="18.07" height="16.35" fill="none" stroke="#eeeeee" stroke-width="0.9"/>
<rect x="342.37" y="487.73" width="18.07" height="16.35" fill="none" stroke="#eeeeee" stroke-width="0.9"/>
<rect x="360.43" y="487.73" width="18.07" height="16.35" fill="none" stroke="#eeeeee" stroke-width="0.9"/>
<rect x="378.50" y="487.73" width="18.07" height="16.35" fill="none" stroke="#eeeeee" stroke-width="0.9"/>
<rect x="396.56" y="487.73" width="18.07" height="16.35" fill="none" stroke="#eeeeee" stroke-width="0.9"/>
<rect x="414.63" y="487.73" width="18.07" height="16.35" fill="none" stroke="#eeeeee" stroke-width="0.9"/>
<rect x="432.70" y="487.73" width="18.07" height="16.35" fill="none" stroke="#eeeeee" stroke-width="0.9"/>
<rect x="342.37" y="504.07" width="18.07" height="16.35" fill="none" stroke="#eeeeee" stroke-width="0.9"/>
<rect x="360.43" y="504.07" width="18.07" height="16.35" fill="none" stroke="#eeeeee" stroke-width="0.9"/>
<rect x="378.50" y="504.07" width="18.07" height="16.35" fill="none" stroke="#eeeeee" stroke-width="0.9"/>
<rect x="396.56" y="504.07" width="18.07" height="16.35" fill="none" stroke="#eeeeee" stroke-width="0.9"/>
<rect x="414.63" y="504.07" width="18.07" height="16.35" fill="none" stroke="#eeeeee" stroke-width="0.9"/>
<rect x="432.70" y="504.07" width="18.07" height="16.35" fill="none" stroke="#eeeeee" stroke-width="0.9"/>
<rect x="450.76" y="504.07" width="18.07" height="16.35" fill="none" stroke="#eeeeee" stroke-width="0.9"/>
<rect x="468.83" y="504.07" width="18.07" height="16.35" fill="none" stroke="#eeeeee" stroke-width="0.9"/>
<rect x="486.89" y="504.07" width="18.07" height="16.35" fill="none" stroke="#eeeeee" stroke-width="0.9"/>
<rect x="504.96" y="504.07" width="18.07" height="16.35" fill="none" stroke="#eeeeee" stroke-width="0.9"/>
<rect x="523.03" y="504.07" width="18.07" height="16.35" fill="none" stroke="#eeeeee" stroke-width="0.9"/>
<rect x="342.37" y="520.43" width="18.07" height="16.35" fill="none" stroke="#eeeeee" stroke-width="0.9"/>
<rect x="360.43" y="520.43" width="18.07" height="16.35" fill="none" stroke="#eeeeee" stroke-width="0.9"/>
<rect x="378.50" y="520.43" width="18.07" height="16.35" fill="none" stroke="#eeeeee" stroke-width="0.9"/>
<rect x="396.56" y="520.43" width="18.07" height="16.35" fill="none" stroke="#eeeeee" stroke-width="0.9"/>
<circle cx="351.40" cy="103.50" r="7.55" fill="#502bff"/>
<circle cx="369.47" cy="103.50" r="7.55" fill="#9569ff"/>
<circle cx="387.53" cy="103.50" r="7.55" fill="#9569ff"/>
<circle cx="405.60" cy="103.50" r="7.55" fill="#8659ff"/>
<circle cx="423.66" cy="103.50" r="7.55" fill="#d4b9ff"/>
<circle cx="441.73" cy="103.50" r="7.55" fill="#683eff"/>
<circle cx="459.80" cy="103.50" r="7.55" fill="#683eff"/>
<circle cx="477.86" cy="103.50" r="7.55" fill="#764aff"/>
<circle cx="495.93" cy="103.50" r="7.55" fill="#8f62ff"/>
<circle cx="513.99" cy="103.50" r="7.55" fill="#7e52ff"/>
<circle cx="532.06" cy="103.50" r="7.55" fill="#764aff"/>
<circle cx="550.13" cy="103.50" r="7.55" fill="#6b40ff"/>
<circle cx="568.19" cy="103.50" r="7.55" fill="#8f62ff"/>
<circle cx="586.26" cy="103.50" r="7.55" fill="#5731ff"/>
<circle cx="604.32" cy="103.50" r="7.55" fill="#6239ff"/>
<circle cx="622.39" cy="103.50" r="7.55" fill="#5e36ff"/>
<circle cx="640.46" cy="103.50" r="7.55" fill="#794dff"/>
<circle cx="658.52" cy="103.50" r="7.55" fill="#8f62ff"/>
<circle cx="676.59" cy="103.50" r="7.55" fill="#5731ff"/>
<circle cx="694.65" cy="103.50" r="7.55" fill="#9a6dff"/>
<circle cx="712.72" cy="103.50" r="7.55" fill="#4725ff"/>
<circle cx="730.79" cy="103.50" r="7.55" fill="#683eff"/>
<circle cx="748.85" cy="103.50" r="7.55" fill="#0000ff"/>
<circle cx="766.92" cy="103.50" r="7.55" fill="#0000ff"/>
<circle cx="784.98" cy="103.50" r="7.55" fill="#8659ff"/>
<circle cx="803.05" cy="103.50" r="7.55" fill="#9c70ff"/>
<circle cx="821.12" cy="103.50" r="7.55" fill="#9569ff"/>
<circle cx="839.18" cy="103.50" r="7.55" fill="#764aff"/>
<circle cx="857.25" cy="103.50" r="7.55" fill="#8f62ff"/>
<circle cx="875.31" cy="103.50" r="7.55" fill="#4725ff"/>
<circle cx="893.38" cy="103.50" r="7.55" fill="#764aff"/>
<circle cx="911.45" cy="103.50" r="7.55" fill="#502bff"/>
<circle cx="929.51" cy="103.50" r="7.55" fill="#502bff"/>
<circle cx="947.58" cy="103.50" r="7.55" fill="#a479ff"/>
<circle cx="965.64" cy="103.50" r="7.55" fill="#4725ff"/>
<circle cx="983.71" cy="103.50" r="7.55" fill="#8a5dff"/>
<circle cx="1001.78" cy="103.50" r="7.55" fill="#aa80ff"/>
<circle cx="1019.84" cy="103.50" r="7.55" fill="#a479ff"/>
<circle cx="351.40" cy="119.85" r="7.55" fill="#502bff"/>
<circle cx="369.47" cy="119.85" r="7.55" fill="#2a12ff"/>
<circle cx="387.53" cy="119.85" r="7.55" fill="#9c70ff"/>
<circle cx="405.60" cy="119.85" r="7.55" fill="#8a5dff"/>
<circle cx="423.66" cy="119.85" r="7.55" fill="#6239ff"/>
<circle cx="441.73" cy="119.85" r="7.55" fill="#a074ff"/>
<circle cx="459.80" cy="119.85" r="7.55" fill="#7c4fff"/>
<circle cx="477.86" cy="119.85" r="7.55" fill="#b690ff"/>
<circle cx="495.93" cy="119.85" r="7.55" fill="#683eff"/>
<circle cx="513.99" cy="119.85" r="7.55" fill="#6b40ff"/>
<circle cx="532.06" cy="119.85" r="7.55" fill="#8f62ff"/>
<circle cx="550.13" cy="119.85" r="7.55" fill="#b38bff"/>
<circle cx="568.19" cy="119.85" r="7.55" fill="#b38bff"/>
<circle cx="586.26" cy="119.85" r="7.55" fill="#c4a2ff"/>
<circle cx="604.32" cy="119.85" r="7.55" fill="#d1b4ff"/>
<circle cx="622.39" cy="119.85" r="7.55" fill="#a479ff"/>
<circle cx="640.46" cy="119.85" r="7.55" fill="#9a6dff"/>
<circle cx="658.52" cy="119.85" r="7.55" fill="#6b40ff"/>
<circle cx="676.59" cy="119.85" r="7.55" fill="#af87ff"/>
<circle cx="694.65" cy="119.85" r="7.55" fill="#a479ff"/>
<circle cx="712.72" cy="119.85" r="7.55" fill="#9c70ff"/>
<circle cx="730.79" cy="119.85" r="7.55" fill="#bc97ff"/>
<circle cx="748.85" cy="119.85" r="7.55" fill="#8f62ff"/>
<circle cx="766.92" cy="119.85" r="7.55" fill="#4222ff"/>
<circle cx="784.98" cy="119.85" r="7.55" fill="#683eff"/>
<circle cx="803.05" cy="119.85" r="7.55" fill="#6b40ff"/>
<circle cx="821.12" cy="119.85" r="7.55" fill="#683eff"/>
<circle cx="839.18" cy="119.85" r="7.55" fill="#9c70ff"/>
<circle cx="857.25" cy="119.85" r="7.55" fill="#8f62ff"/>
<circle cx="875.31" cy="119.85" r="7.55" fill="#5e36ff"/>
<circle cx="893.38" cy="119.85" r="7.55" fill="#a479ff"/>
<circle cx="911.45" cy="119.85" r="7.55" fill="#9c70ff"/>
<circle cx="929.51" cy="119.85" r="7.55" fill="#aa80ff"/>
<circle cx="947.58" cy="119.85" r="7.55" fill="#a479ff"/>
<circle cx="965.64" cy="119.85" r="7.55" fill="#af87ff"/>
<circle cx="983.71" cy="119.85" r="7.55" fill="#c19dff"/>
<circle cx="1001.78" cy="119.85" r="7.55" fill="#6b40ff"/>
<circle cx="1019.84" cy="119.85" r="7.55" fill="#7e52ff"/>
<circle cx="1037.91" cy="119.85" r="7.55" fill="#9c70ff"/>
<circle cx="1055.97" cy="119.85" r="7.55" fill="#9c70ff"/>
<circle cx="1074.04" cy="119.85" r="7.55" fill="#8659ff"/>
<circle cx="1092.11" cy="119.85" r="7.55" fill="#af87ff"/>
<circle cx="351.40" cy="136.20" r="7.55" fill="#fff0ea"/>
<circle cx="369.47" cy="136.20" r="7.55" fill="#d4b9ff"/>
<circle cx="387.53" cy="136.20" r="7.55" fill="#8f62ff"/>
<circle cx="405.60" cy="136.20" r="7.55" fill="#8659ff"/>
<circle cx="423.66" cy="136.20" r="7.55" fill="#c4a2ff"/>
<circle cx="441.73" cy="136.20" r="7.55" fill="#bc97ff"/>
<circle cx="459.80" cy="136.20" r="7.55" fill="#c19dff"/>
<circle cx="477.86" cy="136.20" r="7.55" fill="#d1b4ff"/>
<circle cx="495.93" cy="136.20" r="7.55" fill="#e0cbff"/>
<circle cx="513.99" cy="136.20" r="7.55" fill="#c4a2ff"/>
<circle cx="532.06" cy="136.20" r="7.55" fill="#c8a7ff"/>
<circle cx="550.13" cy="136.20" r="7.55" fill="#b690ff"/>
<circle cx="568.19" cy="136.20" r="7.55" fill="#af87ff"/>
<circle cx="586.26" cy="136.20" r="7.55" fill="#e0cbff"/>
<circle cx="604.32" cy="136.20" r="7.55" fill="#8a5dff"/>
<circle cx="622.39" cy="136.20" r="7.55" fill="#d0b2ff"/>
<circle cx="640.46" cy="136.20" r="7.55" fill="#aa80ff"/>
<circle cx="658.52" cy="136.20" r="7.55" fill="#b690ff"/>
<circle cx="676.59" cy="136.20" r="7.55" fill="#e0cbff"/>
<circle cx="694.65" cy="136.20" r="7.55" fill="#af87ff"/>
<circle cx="712.72" cy="136.20" r="7.55" fill="#a074ff"/>
<circle cx="730.79" cy="136.20" r="7.55" fill="#c4a2ff"/>
<circle cx="351.40" cy="152.55" r="7.55" fill="#ffae95"/>
<circle cx="369.47" cy="152.55" r="7.55" fill="#ffc6b2"/>
<circle cx="387.53" cy="152.55" r="7.55" fill="#d0b2ff"/>
<circle cx="405.60" cy="152.55" r="7.55" fill="#ccadff"/>
<circle cx="423.66" cy="152.55" r="7.55" fill="#bc97ff"/>
<circle cx="441.73" cy="152.55" r="7.55" fill="#aa80ff"/>
<circle cx="459.80" cy="152.55" r="7.55" fill="#ffc2ad"/>
<circle cx="477.86" cy="152.55" r="7.55" fill="#ffd9cb"/>
<circle cx="495.93" cy="152.55" r="7.55" fill="#d4b9ff"/>
<circle cx="513.99" cy="152.55" r="7.55" fill="#c19dff"/>
<circle cx="351.40" cy="168.90" r="7.55" fill="#c19dff"/>
<circle cx="369.47" cy="168.90" r="7.55" fill="#b38bff"/>
<circle cx="387.53" cy="168.90" r="7.55" fill="#ffc9b7"/>
<circle cx="405.60" cy="168.90" r="7.55" fill="#aa80ff"/>
<circle cx="423.66" cy="168.90" r="7.55" fill="#5731ff"/>
<circle cx="441.73" cy="168.90" r="7.55" fill="#a479ff"/>
<circle cx="459.80" cy="168.90" r="7.55" fill="#d1b4ff"/>
<circle cx="477.86" cy="168.90" r="7.55" fill="#8f62ff"/>
<circle cx="495.93" cy="168.90" r="7.55" fill="#aa80ff"/>
<circle cx="513.99" cy="168.90" r="7.55" fill="#9569ff"/>
<circle cx="351.40" cy="185.25" r="7.55" fill="#aa80ff"/>
<circle cx="369.47" cy="185.25" r="7.55" fill="#b38bff"/>
<circle cx="387.53" cy="185.25" r="7.55" fill="#ccadff"/>
<circle cx="405.60" cy="185.25" r="7.55" fill="#dcc4ff"/>
<circle cx="423.66" cy="185.25" r="7.55" fill="#e0cbff"/>
<circle cx="441.73" cy="185.25" r="7.55" fill="#ffbca6"/>
<circle cx="459.80" cy="185.25" r="7.55" fill="#af87ff"/>
<circle cx="477.86" cy="185.25" r="7.55" fill="#e0cbff"/>
<circle cx="513.99" cy="185.25" r="7.55" fill="#c4a2ff"/>
<circle cx="532.06" cy="185.25" r="7.55" fill="#e0cbff"/>
<circle cx="550.13" cy="185.25" r="7.55" fill="#d7beff"/>
<circle cx="568.19" cy="185.25" r="7.55" fill="#d9c0ff"/>
<circle cx="586.26" cy="185.25" r="7.55" fill="#8a5dff"/>
<circle cx="604.32" cy="185.25" r="7.55" fill="#c8a7ff"/>
<circle cx="622.39" cy="185.25" r="7.55" fill="#af87ff"/>
<circle cx="640.46" cy="185.25" r="7.55" fill="#ccadff"/>
<circle cx="658.52" cy="185.25" r="7.55" fill="#bc97ff"/>
<circle cx="676.59" cy="185.25" r="7.55" fill="#a67bff"/>
<circle cx="694.65" cy="185.25" r="7.55" fill="#b690ff"/>
<circle cx="712.72" cy="185.25" r="7.55" fill="#ccadff"/>
<circle cx="730.79" cy="185.25" r="7.55" fill="#b38bff"/>
<circle cx="748.85" cy="185.25" r="7.55" fill="#ad84ff"/>
<circle cx="766.92" cy="185.25" r="7.55" fill="#c9a9ff"/>
<circle cx="784.98" cy="185.25" r="7.55" fill="#e3d0ff"/>
<circle cx="803.05" cy="185.25" r="7.55" fill="#d0b2ff"/>
<circle cx="821.12" cy="185.25" r="7.55" fill="#c4a2ff"/>
<circle cx="839.18" cy="185.25" r="7.55" fill="#9c70ff"/>
<circle cx="857.25" cy="185.25" r="7.55" fill="#d1b4ff"/>
<circle cx="875.31" cy="185.25" r="7.55" fill="#b38bff"/>
<circle cx="893.38" cy="185.25" r="7.55" fill="#ccadff"/>
<circle cx="911.45" cy="185.25" r="7.55" fill="#bc97ff"/>
<circle cx="929.51" cy="185.25" r="7.55" fill="#ccadff"/>
<circle cx="947.58" cy="185.25" r="7.55" fill="#bc97ff"/>
<circle cx="965.64" cy="185.25" r="7.55" fill="#d1b4ff"/>
<circle cx="983.71" cy="185.25" r="7.55" fill="#a074ff"/>
<circle cx="351.40" cy="201.60" r="7.55" fill="#ffa286"/>
<circle cx="369.47" cy="201.60" r="7.55" fill="#ffddd0"/>
<circle cx="387.53" cy="201.60" r="7.55" fill="#ff9475"/>
<circle cx="405.60" cy="201.60" r="7.55" fill="#ffc6b2"/>
<circle cx="423.66" cy="201.60" r="7.55" fill="#ffc6b2"/>
<circle cx="441.73" cy="201.60" r="7.55" fill="#ffae95"/>
<circle cx="351.40" cy="217.95" r="7.55" fill="#c8a7ff"/>
<circle cx="369.47" cy="217.95" r="7.55" fill="#aa80ff"/>
<circle cx="387.53" cy="217.95" r="7.55" fill="#af87ff"/>
<circle cx="405.60" cy="217.95" r="7.55" fill="#ffbca6"/>
<circle cx="423.66" cy="217.95" r="7.55" fill="#bc97ff"/>
<circle cx="441.73" cy="217.95" r="7.55" fill="#bc97ff"/>
<circle cx="459.80" cy="217.95" r="7.55" fill="#c8a7ff"/>
<circle cx="477.86" cy="217.95" r="7.55" fill="#aa80ff"/>
<circle cx="351.40" cy="234.30" r="7.55" fill="#ffc6b2"/>
<circle cx="369.47" cy="234.30" r="7.55" fill="#ff7857"/>
<circle cx="387.53" cy="234.30" r="7.55" fill="#ccadff"/>
<circle cx="405.60" cy="234.30" r="7.55" fill="#e0cbff"/>
<circle cx="423.66" cy="234.30" r="7.55" fill="#ffddd0"/>
<circle cx="441.73" cy="234.30" r="7.55" fill="#ffbca6"/>
<circle cx="459.80" cy="234.30" r="7.55" fill="#e0cbff"/>
<circle cx="477.86" cy="234.30" r="7.55" fill="#ffc2ad"/>
<circle cx="495.93" cy="234.30" r="7.55" fill="#ccadff"/>
<circle cx="513.99" cy="234.30" r="7.55" fill="#d4b9ff"/>
<circle cx="532.06" cy="234.30" r="7.55" fill="#ffd9cb"/>
<circle cx="351.40" cy="250.65" r="7.55" fill="#ffae95"/>
<circle cx="351.40" cy="267.00" r="7.55" fill="#e3d0ff"/>
<circle cx="369.47" cy="267.00" r="7.55" fill="#bc97ff"/>
<circle cx="387.53" cy="267.00" r="7.55" fill="#ffb299"/>
<circle cx="405.60" cy="267.00" r="7.55" fill="#ffcfbf"/>
<circle cx="423.66" cy="267.00" r="7.55" fill="#ccadff"/>
<circle cx="351.40" cy="283.35" r="7.55" fill="#ffcfbf"/>
<circle cx="369.47" cy="283.35" r="7.55" fill="#ffd5c6"/>
<circle cx="351.40" cy="299.70" r="7.55" fill="#c4a2ff"/>
<circle cx="369.47" cy="299.70" r="7.55" fill="#9c70ff"/>
<circle cx="387.53" cy="299.70" r="7.55" fill="#aa80ff"/>
<circle cx="405.60" cy="299.70" r="7.55" fill="#bc97ff"/>
<circle cx="423.66" cy="299.70" r="7.55" fill="#c19dff"/>
<circle cx="441.73" cy="299.70" r="7.55" fill="#c19dff"/>
<circle cx="459.80" cy="299.70" r="7.55" fill="#b690ff"/>
<circle cx="477.86" cy="299.70" r="7.55" fill="#d0b2ff"/>
<circle cx="495.93" cy="299.70" r="7.55" fill="#8659ff"/>
<circle cx="513.99" cy="299.70" r="7.55" fill="#a074ff"/>
<circle cx="532.06" cy="299.70" r="7.55" fill="#b38bff"/>
<circle cx="351.40" cy="316.05" r="7.55" fill="#ff9475"/>
<circle cx="369.47" cy="316.05" r="7.55" fill="#d4b9ff"/>
<circle cx="387.53" cy="316.05" r="7.55" fill="#d0b2ff"/>
<circle cx="423.66" cy="316.05" r="7.55" fill="#ff8969"/>
<circle cx="441.73" cy="316.05" r="7.55" fill="#ff7857"/>
<circle cx="459.80" cy="316.05" r="7.55" fill="#b38bff"/>
<circle cx="477.86" cy="316.05" r="7.55" fill="#d4b9ff"/>
<circle cx="495.93" cy="316.05" r="7.55" fill="#bc97ff"/>
<circle cx="513.99" cy="316.05" r="7.55" fill="#ff9a7c"/>
<circle cx="532.06" cy="316.05" r="7.55" fill="#a074ff"/>
<circle cx="550.13" cy="316.05" r="7.55" fill="#ffc9b7"/>
<circle cx="351.40" cy="332.40" r="7.55" fill="#ffbca6"/>
<circle cx="369.47" cy="332.40" r="7.55" fill="#ffc2ad"/>
<circle cx="387.53" cy="332.40" r="7.55" fill="#ffe2d8"/>
<circle cx="405.60" cy="332.40" r="7.55" fill="#ccadff"/>
<circle cx="423.66" cy="332.40" r="7.55" fill="#ffd9cb"/>
<circle cx="441.73" cy="332.40" r="7.55" fill="#b690ff"/>
<circle cx="459.80" cy="332.40" r="7.55" fill="#d0b2ff"/>
<circle cx="477.86" cy="332.40" r="7.55" fill="#ffe2d8"/>
<circle cx="495.93" cy="332.40" r="7.55" fill="#ffc9b7"/>
<circle cx="513.99" cy="332.40" r="7.55" fill="#ff9e81"/>
<circle cx="532.06" cy="332.40" r="7.55" fill="#ffbca6"/>
<circle cx="550.13" cy="332.40" r="7.55" fill="#e3d0ff"/>
<circle cx="568.19" cy="332.40" r="7.55" fill="#dcc4ff"/>
<circle cx="586.26" cy="332.40" r="7.55" fill="#c8a7ff"/>
<circle cx="604.32" cy="332.40" r="7.55" fill="#d1b4ff"/>
<circle cx="351.40" cy="348.75" r="7.55" fill="#e6d5ff"/>
<circle cx="369.47" cy="348.75" r="7.55" fill="#ccadff"/>
<circle cx="387.53" cy="348.75" r="7.55" fill="#e6d5ff"/>
<circle cx="405.60" cy="348.75" r="7.55" fill="#c8a7ff"/>
<circle cx="423.66" cy="348.75" r="7.55" fill="#f8f3ff"/>
<circle cx="369.47" cy="365.10" r="7.55" fill="#ffddd0"/>
<circle cx="387.53" cy="365.10" r="7.55" fill="#ff8d6e"/>
<circle cx="405.60" cy="365.10" r="7.55" fill="#ff9a7c"/>
<circle cx="423.66" cy="365.10" r="7.55" fill="#ffc6b2"/>
<circle cx="351.40" cy="381.45" r="7.55" fill="#e3d0ff"/>
<circle cx="369.47" cy="381.45" r="7.55" fill="#ff9a7c"/>
<circle cx="387.53" cy="381.45" r="7.55" fill="#ff8565"/>
<circle cx="405.60" cy="381.45" r="7.55" fill="#ffc9b7"/>
<circle cx="423.66" cy="381.45" r="7.55" fill="#ffae95"/>
<circle cx="459.80" cy="381.45" r="7.55" fill="#af87ff"/>
<circle cx="477.86" cy="381.45" r="7.55" fill="#ff9475"/>
<circle cx="351.40" cy="397.80" r="7.55" fill="#ff4427"/>
<circle cx="369.47" cy="397.80" r="7.55" fill="#ffae95"/>
<circle cx="387.53" cy="397.80" r="7.55" fill="#ff7e5e"/>
<circle cx="405.60" cy="397.80" r="7.55" fill="#ffa88d"/>
<circle cx="423.66" cy="397.80" r="7.55" fill="#ffa88d"/>
<circle cx="351.40" cy="414.15" r="7.55" fill="#ff7e5e"/>
<circle cx="369.47" cy="414.15" r="7.55" fill="#ff7e5e"/>
<circle cx="387.53" cy="414.15" r="7.55" fill="#ffcfbf"/>
<circle cx="405.60" cy="414.15" r="7.55" fill="#ff8d6e"/>
<circle cx="423.66" cy="414.15" r="7.55" fill="#ff4427"/>
<circle cx="441.73" cy="414.15" r="7.55" fill="#ff7e5e"/>
<circle cx="459.80" cy="414.15" r="7.55" fill="#ffd5c6"/>
<circle cx="477.86" cy="414.15" r="7.55" fill="#ffa88d"/>
<circle cx="351.40" cy="430.50" r="7.55" fill="#ff603f"/>
<circle cx="369.47" cy="430.50" r="7.55" fill="#ffa286"/>
<circle cx="387.53" cy="430.50" r="7.55" fill="#ff9475"/>
<circle cx="405.60" cy="430.50" r="7.55" fill="#ffae95"/>
<circle cx="423.66" cy="430.50" r="7.55" fill="#ff8d6e"/>
<circle cx="441.73" cy="430.50" r="7.55" fill="#ffb299"/>
<circle cx="459.80" cy="430.50" r="7.55" fill="#ff7857"/>
<circle cx="477.86" cy="430.50" r="7.55" fill="#ff7857"/>
<circle cx="495.93" cy="430.50" r="7.55" fill="#ffa88d"/>
<circle cx="513.99" cy="430.50" r="7.55" fill="#ff4d2e"/>
<circle cx="532.06" cy="430.50" r="7.55" fill="#ff9e81"/>
<circle cx="550.13" cy="430.50" r="7.55" fill="#ff9475"/>
<circle cx="568.19" cy="430.50" r="7.55" fill="#ff8565"/>
<circle cx="586.26" cy="430.50" r="7.55" fill="#ffbca6"/>
<circle cx="604.32" cy="430.50" r="7.55" fill="#ff8969"/>
<circle cx="622.39" cy="430.50" r="7.55" fill="#ff8969"/>
<circle cx="640.46" cy="430.50" r="7.55" fill="#ff7352"/>
<circle cx="658.52" cy="430.50" r="7.55" fill="#ffa286"/>
<circle cx="676.59" cy="430.50" r="7.55" fill="#ff9475"/>
<circle cx="694.65" cy="430.50" r="7.55" fill="#ff9475"/>
<circle cx="712.72" cy="430.50" r="7.55" fill="#ff8d6e"/>
<circle cx="730.79" cy="430.50" r="7.55" fill="#ffae95"/>
<circle cx="748.85" cy="430.50" r="7.55" fill="#ffae95"/>
<circle cx="766.92" cy="430.50" r="7.55" fill="#ff9e81"/>
<circle cx="784.98" cy="430.50" r="7.55" fill="#ff8565"/>
<circle cx="803.05" cy="430.50" r="7.55" fill="#ffae95"/>
<circle cx="821.12" cy="430.50" r="7.55" fill="#ffa88d"/>
<circle cx="839.18" cy="430.50" r="7.55" fill="#ffa286"/>
<circle cx="857.25" cy="430.50" r="7.55" fill="#ff9a7c"/>
<circle cx="875.31" cy="430.50" r="7.55" fill="#ffd9cb"/>
<circle cx="351.40" cy="446.85" r="7.55" fill="#ffb69e"/>
<circle cx="369.47" cy="446.85" r="7.55" fill="#ff603f"/>
<circle cx="387.53" cy="446.85" r="7.55" fill="#ff0000"/>
<circle cx="405.60" cy="446.85" r="7.55" fill="#ff361c"/>
<circle cx="423.66" cy="446.85" r="7.55" fill="#ff0000"/>
<circle cx="441.73" cy="446.85" r="7.55" fill="#ff0000"/>
<circle cx="459.80" cy="446.85" r="7.55" fill="#ff4427"/>
<circle cx="477.86" cy="446.85" r="7.55" fill="#ff6846"/>
<circle cx="495.93" cy="446.85" r="7.55" fill="#ffa88d"/>
<circle cx="513.99" cy="446.85" r="7.55" fill="#ff0000"/>
<circle cx="532.06" cy="446.85" r="7.55" fill="#ff7352"/>
<circle cx="550.13" cy="446.85" r="7.55" fill="#ff603f"/>
<circle cx="568.19" cy="446.85" r="7.55" fill="#ff9a7c"/>
<circle cx="586.26" cy="446.85" r="7.55" fill="#ff7857"/>
<circle cx="604.32" cy="446.85" r="7.55" fill="#ff8969"/>
<circle cx="622.39" cy="446.85" r="7.55" fill="#ff6f4d"/>
<circle cx="640.46" cy="446.85" r="7.55" fill="#ff7e5e"/>
<circle cx="658.52" cy="446.85" r="7.55" fill="#ff0000"/>
<circle cx="676.59" cy="446.85" r="7.55" fill="#ffc6b2"/>
<circle cx="694.65" cy="446.85" r="7.55" fill="#ff7352"/>
<circle cx="712.72" cy="446.85" r="7.55" fill="#ff9a7c"/>
<circle cx="730.79" cy="446.85" r="7.55" fill="#ff9475"/>
<circle cx="748.85" cy="446.85" r="7.55" fill="#ff5b3a"/>
<circle cx="766.92" cy="446.85" r="7.55" fill="#ff7e5e"/>
<circle cx="784.98" cy="446.85" r="7.55" fill="#ff8565"/>
<circle cx="803.05" cy="446.85" r="7.55" fill="#ff7e5e"/>
<circle cx="821.12" cy="446.85" r="7.55" fill="#ff7857"/>
<circle cx="839.18" cy="446.85" r="7.55" fill="#ff7352"/>
<circle cx="857.25" cy="446.85" r="7.55" fill="#ffbca6"/>
<circle cx="875.31" cy="446.85" r="7.55" fill="#ff3e22"/>
<circle cx="893.38" cy="446.85" r="7.55" fill="#ff4d2e"/>
<circle cx="911.45" cy="446.85" r="7.55" fill="#ff3e22"/>
<circle cx="351.40" cy="463.20" r="7.55" fill="#ffb299"/>
<circle cx="369.47" cy="463.20" r="7.55" fill="#ff8d6e"/>
<circle cx="387.53" cy="463.20" r="7.55" fill="#ffae95"/>
<circle cx="405.60" cy="463.20" r="7.55" fill="#ff6846"/>
<circle cx="423.66" cy="463.20" r="7.55" fill="#ff0000"/>
<circle cx="351.40" cy="479.55" r="7.55" fill="#ff6f4d"/>
<circle cx="369.47" cy="479.55" r="7.55" fill="#ff0000"/>
<circle cx="387.53" cy="479.55" r="7.55" fill="#ff361c"/>
<circle cx="405.60" cy="479.55" r="7.55" fill="#ff5b3a"/>
<circle cx="423.66" cy="479.55" r="7.55" fill="#ff4d2e"/>
<circle cx="441.73" cy="479.55" r="7.55" fill="#ff2913"/>
<circle cx="459.80" cy="479.55" r="7.55" fill="#ff4427"/>
<circle cx="477.86" cy="479.55" r="7.55" fill="#ff5636"/>
<circle cx="495.93" cy="479.55" r="7.55" fill="#ff4427"/>
<circle cx="513.99" cy="479.55" r="7.55" fill="#ff2913"/>
<circle cx="532.06" cy="479.55" r="7.55" fill="#ff3e22"/>
<circle cx="550.13" cy="479.55" r="7.55" fill="#ff2913"/>
<circle cx="568.19" cy="479.55" r="7.55" fill="#ff3e22"/>
<circle cx="586.26" cy="479.55" r="7.55" fill="#ff3e22"/>
<circle cx="604.32" cy="479.55" r="7.55" fill="#ff8565"/>
<circle cx="622.39" cy="479.55" r="7.55" fill="#ff3219"/>
<circle cx="640.46" cy="479.55" r="7.55" fill="#ff5636"/>
<circle cx="658.52" cy="479.55" r="7.55" fill="#ff0000"/>
<circle cx="676.59" cy="479.55" r="7.55" fill="#ff4d2e"/>
<circle cx="694.65" cy="479.55" r="7.55" fill="#ff0000"/>
<circle cx="712.72" cy="479.55" r="7.55" fill="#ff3e22"/>
<circle cx="351.40" cy="495.90" r="7.55" fill="#ffb69e"/>
<circle cx="369.47" cy="495.90" r="7.55" fill="#ff7e5e"/>
<circle cx="387.53" cy="495.90" r="7.55" fill="#ff9475"/>
<circle cx="405.60" cy="495.90" r="7.55" fill="#ffa88d"/>
<circle cx="423.66" cy="495.90" r="7.55" fill="#b38bff"/>
<circle cx="441.73" cy="495.90" r="7.55" fill="#ffae95"/>
<circle cx="351.40" cy="512.25" r="7.55" fill="#ff2913"/>
<circle cx="369.47" cy="512.25" r="7.55" fill="#ff4d2e"/>
<circle cx="387.53" cy="512.25" r="7.55" fill="#ff4d2e"/>
<circle cx="405.60" cy="512.25" r="7.55" fill="#ff6846"/>
<circle cx="423.66" cy="512.25" r="7.55" fill="#ff3e22"/>
<circle cx="441.73" cy="512.25" r="7.55" fill="#ff5636"/>
<circle cx="459.80" cy="512.25" r="7.55" fill="#ff361c"/>
<circle cx="477.86" cy="512.25" r="7.55" fill="#ff8565"/>
<circle cx="495.93" cy="512.25" r="7.55" fill="#ff7857"/>
<circle cx="513.99" cy="512.25" r="7.55" fill="#ff8565"/>
<circle cx="532.06" cy="512.25" r="7.55" fill="#ff8565"/>
<circle cx="351.40" cy="528.60" r="7.55" fill="#ff8160"/>
<circle cx="369.47" cy="528.60" r="7.55" fill="#ff3e22"/>
<circle cx="387.53" cy="528.60" r="7.55" fill="#ff9a7c"/>
<circle cx="405.60" cy="528.60" r="7.55" fill="#ffa88d"/>
<rect x="830.03" y="94.35" width="18.3" height="18.3" fill="none" stroke="#000" stroke-width="3.3"/>
<rect x="396.45" y="405.00" width="18.3" height="18.3" fill="none" stroke="#000" stroke-width="3.3"/>
<rect x="432.58" y="437.70" width="18.3" height="18.3" fill="none" stroke="#000" stroke-width="3.3"/>
<rect x="340.5" y="94.3" width="761.9000000000001" height="443.2" fill="none" stroke="#333" stroke-width="1.2"/>
<line x1="336.3" y1="103.50" x2="340.5" y2="103.50" stroke="#888" stroke-width="1"/>
<g transform="translate(313.20,108.10) scale(1.0000,1)"><text x="0.00" y="0" font-size="13.4" fill="#222">A</text><path transform="translate(8.94,0) scale(0.00654,-0.00654)" d="M515 0L515 1237L197 1010L197 1180L530 1409L696 1409L696 0Z" fill="#222" stroke="#222" stroke-width="0.1" vector-effect="non-scaling-stroke"/></g>
<line x1="336.3" y1="119.85" x2="340.5" y2="119.85" stroke="#888" stroke-width="1"/>
<g transform="translate(313.20,124.45) scale(1.0000,1)"><text x="0.00 8.94" y="0" font-size="13.4" fill="#222">A2</text></g>
<line x1="336.3" y1="136.20" x2="340.5" y2="136.20" stroke="#888" stroke-width="1"/>
<g transform="translate(313.20,140.80) scale(1.0000,1)"><text x="0.00 8.94" y="0" font-size="13.4" fill="#222">A3</text></g>
<line x1="336.3" y1="152.55" x2="340.5" y2="152.55" stroke="#888" stroke-width="1"/>
<g transform="translate(313.20,157.15) scale(1.0000,1)"><text x="0.00 8.94" y="0" font-size="13.4" fill="#222">A4</text></g>
<line x1="336.3" y1="168.90" x2="340.5" y2="168.90" stroke="#888" stroke-width="1"/>
<g transform="translate(313.20,173.50) scale(1.0000,1)"><text x="0.00 8.94" y="0" font-size="13.4" fill="#222">A5</text></g>
<line x1="336.3" y1="185.25" x2="340.5" y2="185.25" stroke="#888" stroke-width="1"/>
<g transform="translate(313.20,189.85) scale(1.0000,1)"><text x="0.00 8.94" y="0" font-size="13.4" fill="#222">A6</text></g>
<line x1="336.3" y1="201.60" x2="340.5" y2="201.60" stroke="#888" stroke-width="1"/>
<g transform="translate(313.20,206.20) scale(1.0000,1)"><text x="0.00 8.94" y="0" font-size="13.4" fill="#222">A7</text></g>
<line x1="336.3" y1="217.95" x2="340.5" y2="217.95" stroke="#888" stroke-width="1"/>
<g transform="translate(313.20,222.55) scale(1.0000,1)"><text x="0.00 8.94" y="0" font-size="13.4" fill="#222">A8</text></g>
<line x1="336.3" y1="234.30" x2="340.5" y2="234.30" stroke="#888" stroke-width="1"/>
<g transform="translate(309.48,238.90) scale(1.0000,1)"><text x="0.00 16.39" y="0" font-size="13.4" fill="#222">A5</text><path transform="translate(8.94,0) scale(0.00654,-0.00654)" d="M515 0L515 1237L197 1010L197 1180L530 1409L696 1409L696 0Z" fill="#222" stroke="#222" stroke-width="0.1" vector-effect="non-scaling-stroke"/></g>
<line x1="336.3" y1="250.65" x2="340.5" y2="250.65" stroke="#888" stroke-width="1"/>
<g transform="translate(309.48,255.25) scale(1.0000,1)"><text x="0.00 16.39" y="0" font-size="13.4" fill="#222">A6</text><path transform="translate(8.94,0) scale(0.00654,-0.00654)" d="M515 0L515 1237L197 1010L197 1180L530 1409L696 1409L696 0Z" fill="#222" stroke="#222" stroke-width="0.1" vector-effect="non-scaling-stroke"/></g>
<line x1="336.3" y1="267.00" x2="340.5" y2="267.00" stroke="#888" stroke-width="1"/>
<g transform="translate(309.48,271.60) scale(1.0000,1)"><text x="0.00 16.39" y="0" font-size="13.4" fill="#222">A7</text><path transform="translate(8.94,0) scale(0.00654,-0.00654)" d="M515 0L515 1237L197 1010L197 1180L530 1409L696 1409L696 0Z" fill="#222" stroke="#222" stroke-width="0.1" vector-effect="non-scaling-stroke"/></g>
<line x1="336.3" y1="283.35" x2="340.5" y2="283.35" stroke="#888" stroke-width="1"/>
<g transform="translate(309.48,287.95) scale(1.0000,1)"><text x="0.00 16.39" y="0" font-size="13.4" fill="#222">A8</text><path transform="translate(8.94,0) scale(0.00654,-0.00654)" d="M515 0L515 1237L197 1010L197 1180L530 1409L696 1409L696 0Z" fill="#222" stroke="#222" stroke-width="0.1" vector-effect="non-scaling-stroke"/></g>
<line x1="336.3" y1="299.70" x2="340.5" y2="299.70" stroke="#888" stroke-width="1"/>
<g transform="translate(309.48,304.30) scale(1.0000,1)"><text x="0.00 8.94 16.39" y="0" font-size="13.4" fill="#222">A24</text></g>
<line x1="336.3" y1="316.05" x2="340.5" y2="316.05" stroke="#888" stroke-width="1"/>
<g transform="translate(309.48,320.65) scale(1.0000,1)"><text x="0.00 8.94 16.39" y="0" font-size="13.4" fill="#222">A25</text></g>
<line x1="336.3" y1="332.40" x2="340.5" y2="332.40" stroke="#888" stroke-width="1"/>
<g transform="translate(309.48,337.00) scale(1.0000,1)"><text x="0.00 8.94 16.39" y="0" font-size="13.4" fill="#222">A26</text></g>
<line x1="336.3" y1="348.75" x2="340.5" y2="348.75" stroke="#888" stroke-width="1"/>
<g transform="translate(309.48,353.35) scale(1.0000,1)"><text x="0.00 8.94 16.39" y="0" font-size="13.4" fill="#222">A27</text></g>
<line x1="336.3" y1="365.10" x2="340.5" y2="365.10" stroke="#888" stroke-width="1"/>
<g transform="translate(309.48,369.70) scale(1.0000,1)"><text x="0.00 8.94 16.39" y="0" font-size="13.4" fill="#222">A28</text></g>
<line x1="336.3" y1="381.45" x2="340.5" y2="381.45" stroke="#888" stroke-width="1"/>
<g transform="translate(309.48,386.05) scale(1.0000,1)"><text x="0.00 8.94 16.39" y="0" font-size="13.4" fill="#222">A29</text></g>
<line x1="336.3" y1="397.80" x2="340.5" y2="397.80" stroke="#888" stroke-width="1"/>
<g transform="translate(309.48,402.40) scale(1.0000,1)"><text x="0.00 8.94 16.39" y="0" font-size="13.4" fill="#222">A30</text></g>
<line x1="336.3" y1="414.15" x2="340.5" y2="414.15" stroke="#888" stroke-width="1"/>
<g transform="translate(309.48,418.75) scale(1.0000,1)"><text x="0.00 8.94" y="0" font-size="13.4" fill="#222">A3</text><path transform="translate(16.39,0) scale(0.00654,-0.00654)" d="M515 0L515 1237L197 1010L197 1180L530 1409L696 1409L696 0Z" fill="#222" stroke="#222" stroke-width="0.1" vector-effect="non-scaling-stroke"/></g>
<line x1="336.3" y1="430.50" x2="340.5" y2="430.50" stroke="#888" stroke-width="1"/>
<g transform="translate(309.48,435.10) scale(1.0000,1)"><text x="0.00 8.94 16.39" y="0" font-size="13.4" fill="#222">A32</text></g>
<line x1="336.3" y1="446.85" x2="340.5" y2="446.85" stroke="#888" stroke-width="1"/>
<g transform="translate(309.48,451.45) scale(1.0000,1)"><text x="0.00 8.94 16.39" y="0" font-size="13.4" fill="#222">A33</text></g>
<line x1="336.3" y1="463.20" x2="340.5" y2="463.20" stroke="#888" stroke-width="1"/>
<g transform="translate(309.48,467.80) scale(1.0000,1)"><text x="0.00 8.94 16.39" y="0" font-size="13.4" fill="#222">A34</text></g>
<line x1="336.3" y1="479.55" x2="340.5" y2="479.55" stroke="#888" stroke-width="1"/>
<g transform="translate(309.48,484.15) scale(1.0000,1)"><text x="0.00 8.94 16.39" y="0" font-size="13.4" fill="#222">A35</text></g>
<line x1="336.3" y1="495.90" x2="340.5" y2="495.90" stroke="#888" stroke-width="1"/>
<g transform="translate(309.48,500.50) scale(1.0000,1)"><text x="0.00 8.94 16.39" y="0" font-size="13.4" fill="#222">A36</text></g>
<line x1="336.3" y1="512.25" x2="340.5" y2="512.25" stroke="#888" stroke-width="1"/>
<g transform="translate(309.48,516.85) scale(1.0000,1)"><text x="0.00 8.94 16.39" y="0" font-size="13.4" fill="#222">A37</text></g>
<line x1="336.3" y1="528.60" x2="340.5" y2="528.60" stroke="#888" stroke-width="1"/>
<g transform="translate(309.48,533.20) scale(1.0000,1)"><text x="0.00 8.94 16.39" y="0" font-size="13.4" fill="#222">A38</text></g>
<line x1="351.40" y1="537.5" x2="351.40" y2="541.0" stroke="#bbb" stroke-width="1"/>
<g transform="translate(347.65,551.60) scale(1.0000,1)"><path transform="translate(0.00,0) scale(0.00659,-0.00659)" d="M515 0L515 1237L197 1010L197 1180L530 1409L696 1409L696 0Z" fill="#222" stroke="#222" stroke-width="0.1" vector-effect="non-scaling-stroke"/></g>
<line x1="369.47" y1="537.5" x2="369.47" y2="541.0" stroke="#bbb" stroke-width="1"/>
<g transform="translate(365.71,551.60) scale(1.0000,1)"><text x="0.00" y="0" font-size="13.5" fill="#222">2</text></g>
<line x1="387.53" y1="537.5" x2="387.53" y2="541.0" stroke="#bbb" stroke-width="1"/>
<g transform="translate(383.78,551.60) scale(1.0000,1)"><text x="0.00" y="0" font-size="13.5" fill="#222">3</text></g>
<line x1="405.60" y1="537.5" x2="405.60" y2="541.0" stroke="#bbb" stroke-width="1"/>
<g transform="translate(401.84,551.60) scale(1.0000,1)"><text x="0.00" y="0" font-size="13.5" fill="#222">4</text></g>
<line x1="423.66" y1="537.5" x2="423.66" y2="541.0" stroke="#bbb" stroke-width="1"/>
<g transform="translate(419.91,551.60) scale(1.0000,1)"><text x="0.00" y="0" font-size="13.5" fill="#222">5</text></g>
<line x1="441.73" y1="537.5" x2="441.73" y2="541.0" stroke="#bbb" stroke-width="1"/>
<g transform="translate(437.98,551.60) scale(1.0000,1)"><text x="0.00" y="0" font-size="13.5" fill="#222">6</text></g>
<line x1="459.80" y1="537.5" x2="459.80" y2="541.0" stroke="#bbb" stroke-width="1"/>
<g transform="translate(456.04,551.60) scale(1.0000,1)"><text x="0.00" y="0" font-size="13.5" fill="#222">7</text></g>
<line x1="477.86" y1="537.5" x2="477.86" y2="541.0" stroke="#bbb" stroke-width="1"/>
<g transform="translate(474.11,551.60) scale(1.0000,1)"><text x="0.00" y="0" font-size="13.5" fill="#222">8</text></g>
<line x1="495.93" y1="537.5" x2="495.93" y2="541.0" stroke="#bbb" stroke-width="1"/>
<g transform="translate(492.17,551.60) scale(1.0000,1)"><text x="0.00" y="0" font-size="13.5" fill="#222">9</text></g>
<line x1="513.99" y1="537.5" x2="513.99" y2="541.0" stroke="#bbb" stroke-width="1"/>
<g transform="translate(506.49,551.60) scale(1.0000,1)"><text x="7.51" y="0" font-size="13.5" fill="#222">0</text><path transform="translate(0.00,0) scale(0.00659,-0.00659)" d="M515 0L515 1237L197 1010L197 1180L530 1409L696 1409L696 0Z" fill="#222" stroke="#222" stroke-width="0.1" vector-effect="non-scaling-stroke"/></g>
<line x1="532.06" y1="537.5" x2="532.06" y2="541.0" stroke="#bbb" stroke-width="1"/>
<g transform="translate(524.55,551.60) scale(1.0000,1)"><path transform="translate(0.00,0) scale(0.00659,-0.00659)" d="M515 0L515 1237L197 1010L197 1180L530 1409L696 1409L696 0Z" fill="#222" stroke="#222" stroke-width="0.1" vector-effect="non-scaling-stroke"/><path transform="translate(7.51,0) scale(0.00659,-0.00659)" d="M515 0L515 1237L197 1010L197 1180L530 1409L696 1409L696 0Z" fill="#222" stroke="#222" stroke-width="0.1" vector-effect="non-scaling-stroke"/></g>
<line x1="550.13" y1="537.5" x2="550.13" y2="541.0" stroke="#bbb" stroke-width="1"/>
<g transform="translate(542.62,551.60) scale(1.0000,1)"><text x="7.51" y="0" font-size="13.5" fill="#222">2</text><path transform="translate(0.00,0) scale(0.00659,-0.00659)" d="M515 0L515 1237L197 1010L197 1180L530 1409L696 1409L696 0Z" fill="#222" stroke="#222" stroke-width="0.1" vector-effect="non-scaling-stroke"/></g>
<line x1="568.19" y1="537.5" x2="568.19" y2="541.0" stroke="#bbb" stroke-width="1"/>
<g transform="translate(560.68,551.60) scale(1.0000,1)"><text x="7.51" y="0" font-size="13.5" fill="#222">3</text><path transform="translate(0.00,0) scale(0.00659,-0.00659)" d="M515 0L515 1237L197 1010L197 1180L530 1409L696 1409L696 0Z" fill="#222" stroke="#222" stroke-width="0.1" vector-effect="non-scaling-stroke"/></g>
<line x1="586.26" y1="537.5" x2="586.26" y2="541.0" stroke="#bbb" stroke-width="1"/>
<g transform="translate(578.75,551.60) scale(1.0000,1)"><text x="7.51" y="0" font-size="13.5" fill="#222">4</text><path transform="translate(0.00,0) scale(0.00659,-0.00659)" d="M515 0L515 1237L197 1010L197 1180L530 1409L696 1409L696 0Z" fill="#222" stroke="#222" stroke-width="0.1" vector-effect="non-scaling-stroke"/></g>
<line x1="604.32" y1="537.5" x2="604.32" y2="541.0" stroke="#bbb" stroke-width="1"/>
<g transform="translate(596.82,551.60) scale(1.0000,1)"><text x="7.51" y="0" font-size="13.5" fill="#222">5</text><path transform="translate(0.00,0) scale(0.00659,-0.00659)" d="M515 0L515 1237L197 1010L197 1180L530 1409L696 1409L696 0Z" fill="#222" stroke="#222" stroke-width="0.1" vector-effect="non-scaling-stroke"/></g>
<line x1="622.39" y1="537.5" x2="622.39" y2="541.0" stroke="#bbb" stroke-width="1"/>
<g transform="translate(614.88,551.60) scale(1.0000,1)"><text x="7.51" y="0" font-size="13.5" fill="#222">6</text><path transform="translate(0.00,0) scale(0.00659,-0.00659)" d="M515 0L515 1237L197 1010L197 1180L530 1409L696 1409L696 0Z" fill="#222" stroke="#222" stroke-width="0.1" vector-effect="non-scaling-stroke"/></g>
<line x1="640.46" y1="537.5" x2="640.46" y2="541.0" stroke="#bbb" stroke-width="1"/>
<g transform="translate(632.95,551.60) scale(1.0000,1)"><text x="7.51" y="0" font-size="13.5" fill="#222">7</text><path transform="translate(0.00,0) scale(0.00659,-0.00659)" d="M515 0L515 1237L197 1010L197 1180L530 1409L696 1409L696 0Z" fill="#222" stroke="#222" stroke-width="0.1" vector-effect="non-scaling-stroke"/></g>
<line x1="658.52" y1="537.5" x2="658.52" y2="541.0" stroke="#bbb" stroke-width="1"/>
<g transform="translate(651.01,551.60) scale(1.0000,1)"><text x="7.51" y="0" font-size="13.5" fill="#222">8</text><path transform="translate(0.00,0) scale(0.00659,-0.00659)" d="M515 0L515 1237L197 1010L197 1180L530 1409L696 1409L696 0Z" fill="#222" stroke="#222" stroke-width="0.1" vector-effect="non-scaling-stroke"/></g>
<line x1="676.59" y1="537.5" x2="676.59" y2="541.0" stroke="#bbb" stroke-width="1"/>
<g transform="translate(669.08,551.60) scale(1.0000,1)"><text x="7.51" y="0" font-size="13.5" fill="#222">9</text><path transform="translate(0.00,0) scale(0.00659,-0.00659)" d="M515 0L515 1237L197 1010L197 1180L530 1409L696 1409L696 0Z" fill="#222" stroke="#222" stroke-width="0.1" vector-effect="non-scaling-stroke"/></g>
<line x1="694.65" y1="537.5" x2="694.65" y2="541.0" stroke="#bbb" stroke-width="1"/>
<g transform="translate(687.15,551.60) scale(1.0000,1)"><text x="0.00 7.51" y="0" font-size="13.5" fill="#222">20</text></g>
<line x1="712.72" y1="537.5" x2="712.72" y2="541.0" stroke="#bbb" stroke-width="1"/>
<g transform="translate(705.21,551.60) scale(1.0000,1)"><text x="0.00" y="0" font-size="13.5" fill="#222">2</text><path transform="translate(7.51,0) scale(0.00659,-0.00659)" d="M515 0L515 1237L197 1010L197 1180L530 1409L696 1409L696 0Z" fill="#222" stroke="#222" stroke-width="0.1" vector-effect="non-scaling-stroke"/></g>
<line x1="730.79" y1="537.5" x2="730.79" y2="541.0" stroke="#bbb" stroke-width="1"/>
<g transform="translate(723.28,551.60) scale(1.0000,1)"><text x="0.00 7.51" y="0" font-size="13.5" fill="#222">22</text></g>
<line x1="748.85" y1="537.5" x2="748.85" y2="541.0" stroke="#bbb" stroke-width="1"/>
<g transform="translate(741.34,551.60) scale(1.0000,1)"><text x="0.00 7.51" y="0" font-size="13.5" fill="#222">23</text></g>
<line x1="766.92" y1="537.5" x2="766.92" y2="541.0" stroke="#bbb" stroke-width="1"/>
<g transform="translate(759.41,551.60) scale(1.0000,1)"><text x="0.00 7.51" y="0" font-size="13.5" fill="#222">24</text></g>
<line x1="784.98" y1="537.5" x2="784.98" y2="541.0" stroke="#bbb" stroke-width="1"/>
<g transform="translate(777.48,551.60) scale(1.0000,1)"><text x="0.00 7.51" y="0" font-size="13.5" fill="#222">25</text></g>
<line x1="803.05" y1="537.5" x2="803.05" y2="541.0" stroke="#bbb" stroke-width="1"/>
<g transform="translate(795.54,551.60) scale(1.0000,1)"><text x="0.00 7.51" y="0" font-size="13.5" fill="#222">26</text></g>
<line x1="821.12" y1="537.5" x2="821.12" y2="541.0" stroke="#bbb" stroke-width="1"/>
<g transform="translate(813.61,551.60) scale(1.0000,1)"><text x="0.00 7.51" y="0" font-size="13.5" fill="#222">27</text></g>
<line x1="839.18" y1="537.5" x2="839.18" y2="541.0" stroke="#bbb" stroke-width="1"/>
<g transform="translate(831.67,551.60) scale(1.0000,1)"><text x="0.00 7.51" y="0" font-size="13.5" fill="#222">28</text></g>
<line x1="857.25" y1="537.5" x2="857.25" y2="541.0" stroke="#bbb" stroke-width="1"/>
<g transform="translate(849.74,551.60) scale(1.0000,1)"><text x="0.00 7.51" y="0" font-size="13.5" fill="#222">29</text></g>
<line x1="875.31" y1="537.5" x2="875.31" y2="541.0" stroke="#bbb" stroke-width="1"/>
<g transform="translate(867.81,551.60) scale(1.0000,1)"><text x="0.00 7.51" y="0" font-size="13.5" fill="#222">30</text></g>
<line x1="893.38" y1="537.5" x2="893.38" y2="541.0" stroke="#bbb" stroke-width="1"/>
<g transform="translate(885.87,551.60) scale(1.0000,1)"><text x="0.00" y="0" font-size="13.5" fill="#222">3</text><path transform="translate(7.51,0) scale(0.00659,-0.00659)" d="M515 0L515 1237L197 1010L197 1180L530 1409L696 1409L696 0Z" fill="#222" stroke="#222" stroke-width="0.1" vector-effect="non-scaling-stroke"/></g>
<line x1="911.45" y1="537.5" x2="911.45" y2="541.0" stroke="#bbb" stroke-width="1"/>
<g transform="translate(903.94,551.60) scale(1.0000,1)"><text x="0.00 7.51" y="0" font-size="13.5" fill="#222">32</text></g>
<line x1="929.51" y1="537.5" x2="929.51" y2="541.0" stroke="#bbb" stroke-width="1"/>
<g transform="translate(922.00,551.60) scale(1.0000,1)"><text x="0.00 7.51" y="0" font-size="13.5" fill="#222">33</text></g>
<line x1="947.58" y1="537.5" x2="947.58" y2="541.0" stroke="#bbb" stroke-width="1"/>
<g transform="translate(940.07,551.60) scale(1.0000,1)"><text x="0.00 7.51" y="0" font-size="13.5" fill="#222">34</text></g>
<line x1="965.64" y1="537.5" x2="965.64" y2="541.0" stroke="#bbb" stroke-width="1"/>
<g transform="translate(958.14,551.60) scale(1.0000,1)"><text x="0.00 7.51" y="0" font-size="13.5" fill="#222">35</text></g>
<line x1="983.71" y1="537.5" x2="983.71" y2="541.0" stroke="#bbb" stroke-width="1"/>
<g transform="translate(976.20,551.60) scale(1.0000,1)"><text x="0.00 7.51" y="0" font-size="13.5" fill="#222">36</text></g>
<line x1="1001.78" y1="537.5" x2="1001.78" y2="541.0" stroke="#bbb" stroke-width="1"/>
<g transform="translate(994.27,551.60) scale(1.0000,1)"><text x="0.00 7.51" y="0" font-size="13.5" fill="#222">37</text></g>
<line x1="1019.84" y1="537.5" x2="1019.84" y2="541.0" stroke="#bbb" stroke-width="1"/>
<g transform="translate(1012.33,551.60) scale(1.0000,1)"><text x="0.00 7.51" y="0" font-size="13.5" fill="#222">38</text></g>
<line x1="1037.91" y1="537.5" x2="1037.91" y2="541.0" stroke="#bbb" stroke-width="1"/>
<g transform="translate(1030.40,551.60) scale(1.0000,1)"><text x="0.00 7.51" y="0" font-size="13.5" fill="#222">39</text></g>
<line x1="1055.97" y1="537.5" x2="1055.97" y2="541.0" stroke="#bbb" stroke-width="1"/>
<g transform="translate(1048.47,551.60) scale(1.0000,1)"><text x="0.00 7.51" y="0" font-size="13.5" fill="#222">40</text></g>
<line x1="1074.04" y1="537.5" x2="1074.04" y2="541.0" stroke="#bbb" stroke-width="1"/>
<g transform="translate(1066.53,551.60) scale(1.0000,1)"><text x="0.00" y="0" font-size="13.5" fill="#222">4</text><path transform="translate(7.51,0) scale(0.00659,-0.00659)" d="M515 0L515 1237L197 1010L197 1180L530 1409L696 1409L696 0Z" fill="#222" stroke="#222" stroke-width="0.1" vector-effect="non-scaling-stroke"/></g>
<line x1="1092.11" y1="537.5" x2="1092.11" y2="541.0" stroke="#bbb" stroke-width="1"/>
<g transform="translate(1084.60,551.60) scale(1.0000,1)"><text x="0.00 7.51" y="0" font-size="13.5" fill="#222">42</text></g>
<text x="1126.8" y="255.8" font-size="16" fill="#222">%Response</text>
<rect x="1127" y="265" width="25" height="125" fill="url(#lg)"/>
<line x1="1127" y1="296.25" x2="1131" y2="296.25" stroke="#fff" stroke-width="1"/><line x1="1148" y1="296.25" x2="1152" y2="296.25" stroke="#fff" stroke-width="1"/>
<line x1="1127" y1="358.75" x2="1131" y2="358.75" stroke="#fff" stroke-width="1"/><line x1="1148" y1="358.75" x2="1152" y2="358.75" stroke="#fff" stroke-width="1"/>
<g transform="translate(1160.50,269.50) scale(1.0000,1)"><text x="7.06 14.13" y="0" font-size="12.7" fill="#222">00</text><path transform="translate(0.00,0) scale(0.00620,-0.00620)" d="M515 0L515 1237L197 1010L197 1180L530 1409L696 1409L696 0Z" fill="#222" stroke="#222" stroke-width="0.1" vector-effect="non-scaling-stroke"/></g>
<g transform="translate(1160.50,300.75) scale(1.0000,1)"><text x="0.00 7.06" y="0" font-size="12.7" fill="#222">50</text></g>
<g transform="translate(1160.50,332.00) scale(1.0000,1)"><text x="0.00" y="0" font-size="12.7" fill="#222">0</text></g>
<g transform="translate(1160.50,363.25) scale(1.0000,1)"><text x="0.00 4.23 11.29" y="0" font-size="12.7" fill="#222">-50</text></g>
<g transform="translate(1160.50,394.50) scale(1.0000,1)"><text x="0.00 11.29 18.36" y="0" font-size="12.7" fill="#222">-00</text><path transform="translate(4.23,0) scale(0.00620,-0.00620)" d="M515 0L515 1237L197 1010L197 1180L530 1409L696 1409L696 0Z" fill="#222" stroke="#222" stroke-width="0.1" vector-effect="non-scaling-stroke"/></g>
<text x="66.6" y="631.1" font-size="27.8" font-weight="bold" fill="#000">B</text>
<text x="113.4" y="632.3" font-size="25.8" fill="#000" textLength="176.5" lengthAdjust="spacing">Lymphoid cells</text>
<g transform="translate(171.00,674.80) scale(1.0154,1)"><text x="0.00 32.51 45.52 52.02 65.04 71.54 92.33 105.35 118.36 124.86 131.36" y="0" font-size="23.4" font-weight="bold" fill="#000">M2.6.Tcells</text><path transform="translate(19.49,0) scale(0.01143,-0.01143)" d="M478 0L478 1170L140 959L140 1180L493 1409L759 1409L759 0Z" fill="#000" stroke="#000" stroke-width="0.3" vector-effect="non-scaling-stroke"/></g>
<line x1="172.0" y1="736.01" x2="445.6" y2="736.01" stroke="#f0f0f0" stroke-width="1"/>
<line x1="172.0" y1="802.53" x2="445.6" y2="802.53" stroke="#f0f0f0" stroke-width="1"/>
<line x1="172.0" y1="869.04" x2="445.6" y2="869.04" stroke="#f0f0f0" stroke-width="1"/>
<line x1="172.0" y1="935.56" x2="445.6" y2="935.56" stroke="#f0f0f0" stroke-width="1"/>
<line x1="172.0" y1="1002.07" x2="445.6" y2="1002.07" stroke="#f0f0f0" stroke-width="1"/>
<line x1="172.0" y1="702.75" x2="445.6" y2="702.75" stroke="#e8e8e8" stroke-width="1.5"/>
<line x1="172.0" y1="769.27" x2="445.6" y2="769.27" stroke="#e8e8e8" stroke-width="1.5"/>
<line x1="172.0" y1="835.78" x2="445.6" y2="835.78" stroke="#e8e8e8" stroke-width="1.5"/>
<line x1="172.0" y1="902.30" x2="445.6" y2="902.30" stroke="#e8e8e8" stroke-width="1.5"/>
<line x1="172.0" y1="968.81" x2="445.6" y2="968.81" stroke="#e8e8e8" stroke-width="1.5"/>
<line x1="172.0" y1="1035.33" x2="445.6" y2="1035.33" stroke="#e8e8e8" stroke-width="1.5"/>
<line x1="198.40" y1="686.7" x2="198.40" y2="1051.8" stroke="#e8e8e8" stroke-width="1.5"/>
<line x1="242.60" y1="686.7" x2="242.60" y2="1051.8" stroke="#e8e8e8" stroke-width="1.5"/>
<line x1="286.80" y1="686.7" x2="286.80" y2="1051.8" stroke="#e8e8e8" stroke-width="1.5"/>
<line x1="331.00" y1="686.7" x2="331.00" y2="1051.8" stroke="#e8e8e8" stroke-width="1.5"/>
<line x1="375.20" y1="686.7" x2="375.20" y2="1051.8" stroke="#e8e8e8" stroke-width="1.5"/>
<line x1="419.40" y1="686.7" x2="419.40" y2="1051.8" stroke="#e8e8e8" stroke-width="1.5"/>
<polyline points="198.40,713.3 198.40,708.3 375.20,708.3 375.20,713.3" fill="none" stroke="#333" stroke-width="1.3"/>
<text x="286.80" y="704.0" font-size="20.8" fill="#111" text-anchor="middle">ns</text>
<polyline points="242.60,732.3 242.60,727.3 375.20,727.3 375.20,732.3" fill="none" stroke="#333" stroke-width="1.3"/>
<text x="308.90" y="723.6" font-size="18.5" fill="#111" text-anchor="middle">*</text>
<polyline points="286.80,753.3 286.80,748.3 375.20,748.3 375.20,753.3" fill="none" stroke="#333" stroke-width="1.3"/>
<text x="331.00" y="743.0" font-size="18.5" fill="#111" text-anchor="middle">**</text>
<polyline points="331.00,779.6 331.00,774.6 375.20,774.6 375.20,779.6" fill="none" stroke="#333" stroke-width="1.3"/>
<text x="353.10" y="769.8" font-size="18.5" fill="#111" text-anchor="middle">****</text>
<line x1="198.40" y1="902.4" x2="198.40" y2="905" stroke="#222" stroke-width="1.8"/>
<line x1="198.40" y1="913.4" x2="198.40" y2="923.4" stroke="#222" stroke-width="1.8"/>
<rect x="187.10" y="905" width="22.6" height="8.40" fill="#ff7f00" stroke="#333" stroke-width="1.8"/>
<line x1="187.10" y1="907.6" x2="209.70" y2="907.6" stroke="#333" stroke-width="3"/>
<line x1="242.60" y1="903" x2="242.60" y2="913.4" stroke="#222" stroke-width="1.8"/>
<line x1="242.60" y1="950.4" x2="242.60" y2="986.8" stroke="#222" stroke-width="1.8"/>
<rect x="231.30" y="913.4" width="22.6" height="37.00" fill="#ffff00" stroke="#333" stroke-width="1.8"/>
<line x1="231.30" y1="924.4" x2="253.90" y2="924.4" stroke="#333" stroke-width="3"/>
<line x1="286.80" y1="912.8" x2="286.80" y2="920.9" stroke="#222" stroke-width="1.8"/>
<line x1="286.80" y1="953" x2="286.80" y2="992.6" stroke="#222" stroke-width="1.8"/>
<rect x="275.50" y="920.9" width="22.6" height="32.10" fill="#1035c8" stroke="#333" stroke-width="1.8"/>
<line x1="275.50" y1="939.7" x2="298.10" y2="939.7" stroke="#333" stroke-width="3"/>
<line x1="331.00" y1="903.1" x2="331.00" y2="937.3" stroke="#222" stroke-width="1.8"/>
<line x1="331.00" y1="1014.2" x2="331.00" y2="1029.9" stroke="#222" stroke-width="1.8"/>
<rect x="319.70" y="937.3" width="22.6" height="76.90" fill="#d6d6d6" stroke="#333" stroke-width="1.8"/>
<line x1="319.70" y1="971.2" x2="342.30" y2="971.2" stroke="#333" stroke-width="3"/>
<line x1="375.20" y1="897.2" x2="375.20" y2="902.3" stroke="#222" stroke-width="1.8"/>
<line x1="375.20" y1="913.3" x2="375.20" y2="915.8" stroke="#222" stroke-width="1.8"/>
<rect x="363.90" y="902.3" width="22.6" height="11.00" fill="#fdd27a" stroke="#333" stroke-width="1.8"/>
<line x1="363.90" y1="902.6" x2="386.50" y2="902.6" stroke="#333" stroke-width="3"/>
<line x1="419.40" y1="876.1" x2="419.40" y2="891.6" stroke="#222" stroke-width="1.8"/>
<line x1="419.40" y1="908.2" x2="419.40" y2="908.2" stroke="#222" stroke-width="1.8"/>
<rect x="408.10" y="891.6" width="22.6" height="16.60" fill="#5bbcf5" stroke="#333" stroke-width="1.8"/>
<line x1="408.10" y1="902.6" x2="430.70" y2="902.6" stroke="#333" stroke-width="3"/>
<circle cx="197.0" cy="886.5" r="2.45" fill="#000" fill-opacity="0.4" stroke="#000" stroke-opacity="0.42" stroke-width="1.2"/>
<circle cx="194.7" cy="902.4" r="2.45" fill="#000" fill-opacity="0.4" stroke="#000" stroke-opacity="0.42" stroke-width="1.2"/>
<circle cx="197" cy="902.4" r="2.45" fill="#000" fill-opacity="0.4" stroke="#000" stroke-opacity="0.42" stroke-width="1.2"/>
<circle cx="202.2" cy="902.4" r="2.45" fill="#000" fill-opacity="0.4" stroke="#000" stroke-opacity="0.42" stroke-width="1.2"/>
<circle cx="198.7" cy="907.6" r="2.45" fill="#000" fill-opacity="0.4" stroke="#000" stroke-opacity="0.42" stroke-width="1.2"/>
<circle cx="199.5" cy="907.6" r="2.45" fill="#000" fill-opacity="0.4" stroke="#000" stroke-opacity="0.42" stroke-width="1.2"/>
<circle cx="194.1" cy="913.4" r="2.45" fill="#000" fill-opacity="0.4" stroke="#000" stroke-opacity="0.42" stroke-width="1.2"/>
<circle cx="200.4" cy="913.4" r="2.45" fill="#000" fill-opacity="0.4" stroke="#000" stroke-opacity="0.42" stroke-width="1.2"/>
<circle cx="195.2" cy="923.8" r="2.45" fill="#000" fill-opacity="0.4" stroke="#000" stroke-opacity="0.42" stroke-width="1.2"/>
<circle cx="202.4" cy="939.7" r="2.45" fill="#000" fill-opacity="0.4" stroke="#000" stroke-opacity="0.42" stroke-width="1.2"/>
<circle cx="199.5" cy="966.3" r="2.45" fill="#000" fill-opacity="0.4" stroke="#000" stroke-opacity="0.42" stroke-width="1.2"/>
<circle cx="245.6" cy="902.4" r="2.45" fill="#000" fill-opacity="0.4" stroke="#000" stroke-opacity="0.42" stroke-width="1.2"/>
<circle cx="240.3" cy="907.6" r="2.45" fill="#000" fill-opacity="0.4" stroke="#000" stroke-opacity="0.42" stroke-width="1.2"/>
<circle cx="241.5" cy="907.6" r="2.45" fill="#000" fill-opacity="0.4" stroke="#000" stroke-opacity="0.42" stroke-width="1.2"/>
<circle cx="239.2" cy="918.3" r="2.45" fill="#000" fill-opacity="0.4" stroke="#000" stroke-opacity="0.42" stroke-width="1.2"/>
<circle cx="242.7" cy="918.3" r="2.45" fill="#000" fill-opacity="0.4" stroke="#000" stroke-opacity="0.42" stroke-width="1.2"/>
<circle cx="245" cy="918.3" r="2.45" fill="#000" fill-opacity="0.4" stroke="#000" stroke-opacity="0.42" stroke-width="1.2"/>
<circle cx="241.5" cy="923.8" r="2.45" fill="#000" fill-opacity="0.4" stroke="#000" stroke-opacity="0.42" stroke-width="1.2"/>
<circle cx="242.1" cy="949.8" r="2.45" fill="#000" fill-opacity="0.4" stroke="#000" stroke-opacity="0.42" stroke-width="1.2"/>
<circle cx="244.4" cy="949.8" r="2.45" fill="#000" fill-opacity="0.4" stroke="#000" stroke-opacity="0.42" stroke-width="1.2"/>
<circle cx="240.3" cy="982" r="2.45" fill="#000" fill-opacity="0.4" stroke="#000" stroke-opacity="0.42" stroke-width="1.2"/>
<circle cx="242.1" cy="987.7" r="2.45" fill="#000" fill-opacity="0.4" stroke="#000" stroke-opacity="0.42" stroke-width="1.2"/>
<circle cx="285.1" cy="913" r="2.45" fill="#000" fill-opacity="0.4" stroke="#000" stroke-opacity="0.42" stroke-width="1.2"/>
<circle cx="282.6" cy="918.3" r="2.45" fill="#000" fill-opacity="0.4" stroke="#000" stroke-opacity="0.42" stroke-width="1.2"/>
<circle cx="286" cy="918.3" r="2.45" fill="#000" fill-opacity="0.4" stroke="#000" stroke-opacity="0.42" stroke-width="1.2"/>
<circle cx="290.1" cy="923.8" r="2.45" fill="#000" fill-opacity="0.4" stroke="#000" stroke-opacity="0.42" stroke-width="1.2"/>
<circle cx="286.3" cy="934.2" r="2.45" fill="#000" fill-opacity="0.4" stroke="#000" stroke-opacity="0.42" stroke-width="1.2"/>
<circle cx="285.1" cy="939.7" r="2.45" fill="#000" fill-opacity="0.4" stroke="#000" stroke-opacity="0.42" stroke-width="1.2"/>
<circle cx="283.1" cy="945" r="2.45" fill="#000" fill-opacity="0.4" stroke="#000" stroke-opacity="0.42" stroke-width="1.2"/>
<circle cx="286.6" cy="945" r="2.45" fill="#000" fill-opacity="0.4" stroke="#000" stroke-opacity="0.42" stroke-width="1.2"/>
<circle cx="289.3" cy="950.2" r="2.45" fill="#000" fill-opacity="0.4" stroke="#000" stroke-opacity="0.42" stroke-width="1.2"/>
<circle cx="290.7" cy="955.8" r="2.45" fill="#000" fill-opacity="0.4" stroke="#000" stroke-opacity="0.42" stroke-width="1.2"/>
<circle cx="282.6" cy="961.1" r="2.45" fill="#000" fill-opacity="0.4" stroke="#000" stroke-opacity="0.42" stroke-width="1.2"/>
<circle cx="285.2" cy="992.8" r="2.45" fill="#000" fill-opacity="0.4" stroke="#000" stroke-opacity="0.42" stroke-width="1.2"/>
<circle cx="290.2" cy="1019.5" r="2.45" fill="#000" fill-opacity="0.4" stroke="#000" stroke-opacity="0.42" stroke-width="1.2"/>
<circle cx="327.8" cy="902.3" r="2.45" fill="#000" fill-opacity="0.4" stroke="#000" stroke-opacity="0.42" stroke-width="1.2"/>
<circle cx="334.5" cy="907.8" r="2.45" fill="#000" fill-opacity="0.4" stroke="#000" stroke-opacity="0.42" stroke-width="1.2"/>
<circle cx="333.7" cy="929" r="2.45" fill="#000" fill-opacity="0.4" stroke="#000" stroke-opacity="0.42" stroke-width="1.2"/>
<circle cx="334.5" cy="934.4" r="2.45" fill="#000" fill-opacity="0.4" stroke="#000" stroke-opacity="0.42" stroke-width="1.2"/>
<circle cx="328.6" cy="939.5" r="2.45" fill="#000" fill-opacity="0.4" stroke="#000" stroke-opacity="0.42" stroke-width="1.2"/>
<circle cx="332.8" cy="955.5" r="2.45" fill="#000" fill-opacity="0.4" stroke="#000" stroke-opacity="0.42" stroke-width="1.2"/>
<circle cx="332" cy="961.1" r="2.45" fill="#000" fill-opacity="0.4" stroke="#000" stroke-opacity="0.42" stroke-width="1.2"/>
<circle cx="332.8" cy="971.6" r="2.45" fill="#000" fill-opacity="0.4" stroke="#000" stroke-opacity="0.42" stroke-width="1.2"/>
<circle cx="330.3" cy="1003.4" r="2.45" fill="#000" fill-opacity="0.4" stroke="#000" stroke-opacity="0.42" stroke-width="1.2"/>
<circle cx="327.8" cy="1013.8" r="2.45" fill="#000" fill-opacity="0.4" stroke="#000" stroke-opacity="0.42" stroke-width="1.2"/>
<circle cx="334.5" cy="1013.8" r="2.45" fill="#000" fill-opacity="0.4" stroke="#000" stroke-opacity="0.42" stroke-width="1.2"/>
<circle cx="330" cy="1018.9" r="2.45" fill="#000" fill-opacity="0.4" stroke="#000" stroke-opacity="0.42" stroke-width="1.2"/>
<circle cx="327.4" cy="1029.9" r="2.45" fill="#000" fill-opacity="0.4" stroke="#000" stroke-opacity="0.42" stroke-width="1.2"/>
<circle cx="332" cy="1029.9" r="2.45" fill="#000" fill-opacity="0.4" stroke="#000" stroke-opacity="0.42" stroke-width="1.2"/>
<circle cx="375.1" cy="876.1" r="2.45" fill="#000" fill-opacity="0.4" stroke="#000" stroke-opacity="0.42" stroke-width="1.2"/>
<circle cx="376.8" cy="881.1" r="2.45" fill="#000" fill-opacity="0.4" stroke="#000" stroke-opacity="0.42" stroke-width="1.2"/>
<circle cx="377.6" cy="897.2" r="2.45" fill="#000" fill-opacity="0.4" stroke="#000" stroke-opacity="0.42" stroke-width="1.2"/>
<circle cx="375.6" cy="902.3" r="2.45" fill="#000" fill-opacity="0.4" stroke="#000" stroke-opacity="0.42" stroke-width="1.2"/>
<circle cx="370.5" cy="913.3" r="2.45" fill="#000" fill-opacity="0.4" stroke="#000" stroke-opacity="0.42" stroke-width="1.2"/>
<circle cx="374.2" cy="913.3" r="2.45" fill="#000" fill-opacity="0.4" stroke="#000" stroke-opacity="0.42" stroke-width="1.2"/>
<circle cx="376.8" cy="918.3" r="2.45" fill="#000" fill-opacity="0.4" stroke="#000" stroke-opacity="0.42" stroke-width="1.2"/>
<circle cx="372.9" cy="966.5" r="2.45" fill="#000" fill-opacity="0.4" stroke="#000" stroke-opacity="0.42" stroke-width="1.2"/>
<circle cx="417.4" cy="865.1" r="2.45" fill="#000" fill-opacity="0.4" stroke="#000" stroke-opacity="0.42" stroke-width="1.2"/>
<circle cx="421.6" cy="876.1" r="2.45" fill="#000" fill-opacity="0.4" stroke="#000" stroke-opacity="0.42" stroke-width="1.2"/>
<circle cx="422.9" cy="891.6" r="2.45" fill="#000" fill-opacity="0.4" stroke="#000" stroke-opacity="0.42" stroke-width="1.2"/>
<circle cx="416.5" cy="896.9" r="2.45" fill="#000" fill-opacity="0.4" stroke="#000" stroke-opacity="0.42" stroke-width="1.2"/>
<circle cx="414.8" cy="902.3" r="2.45" fill="#000" fill-opacity="0.4" stroke="#000" stroke-opacity="0.42" stroke-width="1.2"/>
<circle cx="423.3" cy="902.3" r="2.45" fill="#000" fill-opacity="0.4" stroke="#000" stroke-opacity="0.42" stroke-width="1.2"/>
<circle cx="418.2" cy="908.2" r="2.45" fill="#000" fill-opacity="0.4" stroke="#000" stroke-opacity="0.42" stroke-width="1.2"/>
<circle cx="416.5" cy="913.3" r="2.45" fill="#000" fill-opacity="0.4" stroke="#000" stroke-opacity="0.42" stroke-width="1.2"/>
<circle cx="420.2" cy="913.3" r="2.45" fill="#000" fill-opacity="0.4" stroke="#000" stroke-opacity="0.42" stroke-width="1.2"/>
<circle cx="418.2" cy="934.4" r="2.45" fill="#000" fill-opacity="0.4" stroke="#000" stroke-opacity="0.42" stroke-width="1.2"/>
<line x1="172.0" y1="686.7" x2="445.6" y2="686.7" stroke="#999" stroke-width="1.4"/>
<line x1="172.0" y1="686.7" x2="172.0" y2="1051.8" stroke="#999" stroke-width="1.4"/>
<line x1="445.6" y1="686.0" x2="445.6" y2="1052.5" stroke="#444" stroke-width="1.4"/>
<line x1="171.3" y1="1051.8" x2="446.3" y2="1051.8" stroke="#444" stroke-width="1.4"/>
<line x1="168.0" y1="702.75" x2="172.0" y2="702.75" stroke="#333" stroke-width="1.3"/>
<g transform="translate(125.56,703.05) scale(1.0000,1)"><text x="13.35 26.70" y="0" font-size="24" fill="#000">50</text><path transform="translate(0.00,0) scale(0.01172,-0.01172)" d="M515 0L515 1237L197 1010L197 1180L530 1409L696 1409L696 0Z" fill="#000" stroke="#000" stroke-width="0.3" vector-effect="non-scaling-stroke"/></g>
<line x1="168.0" y1="769.27" x2="172.0" y2="769.27" stroke="#333" stroke-width="1.3"/>
<g transform="translate(125.56,769.57) scale(1.0000,1)"><text x="13.35 26.70" y="0" font-size="24" fill="#000">00</text><path transform="translate(0.00,0) scale(0.01172,-0.01172)" d="M515 0L515 1237L197 1010L197 1180L530 1409L696 1409L696 0Z" fill="#000" stroke="#000" stroke-width="0.3" vector-effect="non-scaling-stroke"/></g>
<line x1="168.0" y1="835.78" x2="172.0" y2="835.78" stroke="#333" stroke-width="1.3"/>
<g transform="translate(138.90,836.08) scale(1.0000,1)"><text x="0.00 13.35" y="0" font-size="24" fill="#000">50</text></g>
<line x1="168.0" y1="902.30" x2="172.0" y2="902.30" stroke="#333" stroke-width="1.3"/>
<g transform="translate(152.25,902.60) scale(1.0000,1)"><text x="0.00" y="0" font-size="24" fill="#000">0</text></g>
<line x1="168.0" y1="968.81" x2="172.0" y2="968.81" stroke="#333" stroke-width="1.3"/>
<g transform="translate(130.91,969.11) scale(1.0000,1)"><text x="0.00 7.99 21.34" y="0" font-size="24" fill="#000">-50</text></g>
<line x1="168.0" y1="1035.33" x2="172.0" y2="1035.33" stroke="#333" stroke-width="1.3"/>
<g transform="translate(117.56,1035.63) scale(1.0000,1)"><text x="0.00 21.34 34.69" y="0" font-size="24" fill="#000">-00</text><path transform="translate(7.99,0) scale(0.01172,-0.01172)" d="M515 0L515 1237L197 1010L197 1180L530 1409L696 1409L696 0Z" fill="#000" stroke="#000" stroke-width="0.3" vector-effect="non-scaling-stroke"/></g>
<line x1="198.40" y1="1051.8" x2="198.40" y2="1055.3" stroke="#333" stroke-width="1.3"/>
<g transform="translate(184.40,1075.80) scale(1.0000,1)"><text x="0.00" y="0" font-size="24" fill="#000">T</text><path transform="translate(14.66,0) scale(0.01172,-0.01172)" d="M515 0L515 1237L197 1010L197 1180L530 1409L696 1409L696 0Z" fill="#000" stroke="#000" stroke-width="0.3" vector-effect="non-scaling-stroke"/></g>
<line x1="242.60" y1="1051.8" x2="242.60" y2="1055.3" stroke="#333" stroke-width="1.3"/>
<g transform="translate(228.60,1075.80) scale(1.0000,1)"><text x="0.00 14.66" y="0" font-size="24" fill="#000">T2</text></g>
<line x1="286.80" y1="1051.8" x2="286.80" y2="1055.3" stroke="#333" stroke-width="1.3"/>
<g transform="translate(272.80,1075.80) scale(1.0000,1)"><text x="0.00 14.66" y="0" font-size="24" fill="#000">T3</text></g>
<line x1="331.00" y1="1051.8" x2="331.00" y2="1055.3" stroke="#333" stroke-width="1.3"/>
<g transform="translate(322.33,1075.80) scale(1.0000,1)"><text x="0.00" y="0" font-size="24" fill="#000">D</text></g>
<line x1="375.20" y1="1051.8" x2="375.20" y2="1055.3" stroke="#333" stroke-width="1.3"/>
<g transform="translate(352.52,1075.80) scale(1.0000,1)"><text x="13.35 29.36" y="0" font-size="24" fill="#000">PP</text><path transform="translate(0.00,0) scale(0.01172,-0.01172)" d="M515 0L515 1237L197 1010L197 1180L530 1409L696 1409L696 0Z" fill="#000" stroke="#000" stroke-width="0.3" vector-effect="non-scaling-stroke"/></g>
<line x1="419.40" y1="1051.8" x2="419.40" y2="1055.3" stroke="#333" stroke-width="1.3"/>
<g transform="translate(396.72,1075.80) scale(1.0000,1)"><text x="0.00 13.35 29.36" y="0" font-size="24" fill="#000">3PP</text></g>
<text x="308.80" y="1108.2" font-size="23.5" fill="#000" text-anchor="middle">Timepoint</text>
<text transform="translate(112,867.9) rotate(-90)" x="0" y="0" font-size="23.5" fill="#000" text-anchor="middle">Percentage of response</text>
<text x="524.3" y="630.3" font-size="27.8" font-weight="bold" fill="#000">C</text>
<text x="592.7" y="636.5" font-size="25.8" fill="#000" textLength="176.8" lengthAdjust="spacing">Prostaglandins</text>
<g transform="translate(596.10,674.30) scale(1.0097,1)"><text x="0.00 32.51 45.52 52.02 65.04 78.05 84.55 100.16 106.66 119.67 127.47 140.48 146.98 160.00 167.79 174.29 189.90 199.00 213.30 226.31 234.10 247.12 261.41 267.91 280.93 295.22 309.51 316.01" y="0" font-size="23.4" font-weight="bold" fill="#000">M6.64.Platelet/Prostaglandin</text><path transform="translate(19.49,0) scale(0.01143,-0.01143)" d="M478 0L478 1170L140 959L140 1180L493 1409L759 1409L759 0Z" fill="#000" stroke="#000" stroke-width="0.3" vector-effect="non-scaling-stroke"/></g>
<line x1="596.7" y1="735.95" x2="870.7" y2="735.95" stroke="#f0f0f0" stroke-width="1"/>
<line x1="596.7" y1="802.45" x2="870.7" y2="802.45" stroke="#f0f0f0" stroke-width="1"/>
<line x1="596.7" y1="868.95" x2="870.7" y2="868.95" stroke="#f0f0f0" stroke-width="1"/>
<line x1="596.7" y1="935.45" x2="870.7" y2="935.45" stroke="#f0f0f0" stroke-width="1"/>
<line x1="596.7" y1="1001.95" x2="870.7" y2="1001.95" stroke="#f0f0f0" stroke-width="1"/>
<line x1="596.7" y1="702.70" x2="870.7" y2="702.70" stroke="#e8e8e8" stroke-width="1.5"/>
<line x1="596.7" y1="769.20" x2="870.7" y2="769.20" stroke="#e8e8e8" stroke-width="1.5"/>
<line x1="596.7" y1="835.70" x2="870.7" y2="835.70" stroke="#e8e8e8" stroke-width="1.5"/>
<line x1="596.7" y1="902.20" x2="870.7" y2="902.20" stroke="#e8e8e8" stroke-width="1.5"/>
<line x1="596.7" y1="968.70" x2="870.7" y2="968.70" stroke="#e8e8e8" stroke-width="1.5"/>
<line x1="596.7" y1="1035.20" x2="870.7" y2="1035.20" stroke="#e8e8e8" stroke-width="1.5"/>
<line x1="622.90" y1="687.3" x2="622.90" y2="1051.8" stroke="#e8e8e8" stroke-width="1.5"/>
<line x1="667.17" y1="687.3" x2="667.17" y2="1051.8" stroke="#e8e8e8" stroke-width="1.5"/>
<line x1="711.44" y1="687.3" x2="711.44" y2="1051.8" stroke="#e8e8e8" stroke-width="1.5"/>
<line x1="755.71" y1="687.3" x2="755.71" y2="1051.8" stroke="#e8e8e8" stroke-width="1.5"/>
<line x1="799.98" y1="687.3" x2="799.98" y2="1051.8" stroke="#e8e8e8" stroke-width="1.5"/>
<line x1="844.25" y1="687.3" x2="844.25" y2="1051.8" stroke="#e8e8e8" stroke-width="1.5"/>
<polyline points="622.90,711.8 622.90,706.8 799.98,706.8 799.98,711.8" fill="none" stroke="#333" stroke-width="1.3"/>
<text x="711.44" y="703.1" font-size="20.8" fill="#111" text-anchor="middle">ns</text>
<polyline points="667.17,731.9 667.17,726.9 799.98,726.9 799.98,731.9" fill="none" stroke="#333" stroke-width="1.3"/>
<text x="733.58" y="722.9" font-size="20.8" fill="#111" text-anchor="middle">ns</text>
<polyline points="711.44,751.7 711.44,746.7 799.98,746.7 799.98,751.7" fill="none" stroke="#333" stroke-width="1.3"/>
<text x="755.71" y="742.0" font-size="18.5" fill="#111" text-anchor="middle">**</text>
<polyline points="755.71,778.4 755.71,773.4 799.98,773.4 799.98,778.4" fill="none" stroke="#333" stroke-width="1.3"/>
<text x="777.85" y="769.7" font-size="20.8" fill="#111" text-anchor="middle">ns</text>
<line x1="622.90" y1="879.8" x2="622.90" y2="907.2" stroke="#222" stroke-width="1.8"/>
<line x1="622.90" y1="932.6" x2="622.90" y2="962.4" stroke="#222" stroke-width="1.8"/>
<rect x="611.60" y="907.2" width="22.6" height="25.40" fill="#ff7f00" stroke="#333" stroke-width="1.8"/>
<line x1="611.60" y1="910.2" x2="634.20" y2="910.2" stroke="#333" stroke-width="3"/>
<line x1="667.17" y1="848.5" x2="667.17" y2="856.6" stroke="#222" stroke-width="1.8"/>
<line x1="667.17" y1="918.6" x2="667.17" y2="967.1" stroke="#222" stroke-width="1.8"/>
<rect x="655.87" y="856.6" width="22.6" height="62.00" fill="#ffff00" stroke="#333" stroke-width="1.8"/>
<line x1="655.87" y1="893.2" x2="678.47" y2="893.2" stroke="#333" stroke-width="3"/>
<line x1="711.44" y1="801.5" x2="711.44" y2="850" stroke="#222" stroke-width="1.8"/>
<line x1="711.44" y1="881.9" x2="711.44" y2="907.2" stroke="#222" stroke-width="1.8"/>
<rect x="700.14" y="850" width="22.6" height="31.90" fill="#1035c8" stroke="#333" stroke-width="1.8"/>
<line x1="700.14" y1="860.5" x2="722.74" y2="860.5" stroke="#333" stroke-width="3"/>
<line x1="755.71" y1="815.2" x2="755.71" y2="861" stroke="#222" stroke-width="1.8"/>
<line x1="755.71" y1="911.7" x2="755.71" y2="966.8" stroke="#222" stroke-width="1.8"/>
<rect x="744.41" y="861" width="22.6" height="50.70" fill="#d6d6d6" stroke="#333" stroke-width="1.8"/>
<line x1="744.41" y1="893.2" x2="767.01" y2="893.2" stroke="#333" stroke-width="3"/>
<line x1="799.98" y1="888.8" x2="799.98" y2="893.2" stroke="#222" stroke-width="1.8"/>
<line x1="799.98" y1="911.7" x2="799.98" y2="925.4" stroke="#222" stroke-width="1.8"/>
<rect x="788.68" y="893.2" width="22.6" height="18.50" fill="#fdd27a" stroke="#333" stroke-width="1.8"/>
<line x1="788.68" y1="907.2" x2="811.28" y2="907.2" stroke="#333" stroke-width="3"/>
<line x1="844.25" y1="879.8" x2="844.25" y2="897.7" stroke="#222" stroke-width="1.8"/>
<line x1="844.25" y1="916.5" x2="844.25" y2="916.5" stroke="#222" stroke-width="1.8"/>
<rect x="832.95" y="897.7" width="22.6" height="18.80" fill="#5bbcf5" stroke="#333" stroke-width="1.8"/>
<line x1="832.95" y1="911.1" x2="855.55" y2="911.1" stroke="#333" stroke-width="3"/>
<circle cx="622.8" cy="879.8" r="2.45" fill="#000" fill-opacity="0.4" stroke="#000" stroke-opacity="0.42" stroke-width="1.2"/>
<circle cx="624.9" cy="893.2" r="2.45" fill="#000" fill-opacity="0.4" stroke="#000" stroke-opacity="0.42" stroke-width="1.2"/>
<circle cx="624.3" cy="902.2" r="2.45" fill="#000" fill-opacity="0.4" stroke="#000" stroke-opacity="0.42" stroke-width="1.2"/>
<circle cx="619.8" cy="907.2" r="2.45" fill="#000" fill-opacity="0.4" stroke="#000" stroke-opacity="0.42" stroke-width="1.2"/>
<circle cx="622.8" cy="911.1" r="2.45" fill="#000" fill-opacity="0.4" stroke="#000" stroke-opacity="0.42" stroke-width="1.2"/>
<circle cx="624.9" cy="916.2" r="2.45" fill="#000" fill-opacity="0.4" stroke="#000" stroke-opacity="0.42" stroke-width="1.2"/>
<circle cx="627.3" cy="916.2" r="2.45" fill="#000" fill-opacity="0.4" stroke="#000" stroke-opacity="0.42" stroke-width="1.2"/>
<circle cx="626.7" cy="925.4" r="2.45" fill="#000" fill-opacity="0.4" stroke="#000" stroke-opacity="0.42" stroke-width="1.2"/>
<circle cx="623.7" cy="939.4" r="2.45" fill="#000" fill-opacity="0.4" stroke="#000" stroke-opacity="0.42" stroke-width="1.2"/>
<circle cx="619.2" cy="943.9" r="2.45" fill="#000" fill-opacity="0.4" stroke="#000" stroke-opacity="0.42" stroke-width="1.2"/>
<circle cx="624.9" cy="952.8" r="2.45" fill="#000" fill-opacity="0.4" stroke="#000" stroke-opacity="0.42" stroke-width="1.2"/>
<circle cx="621.9" cy="962.4" r="2.45" fill="#000" fill-opacity="0.4" stroke="#000" stroke-opacity="0.42" stroke-width="1.2"/>
<circle cx="666" cy="847" r="2.45" fill="#000" fill-opacity="0.4" stroke="#000" stroke-opacity="0.42" stroke-width="1.2"/>
<circle cx="668.1" cy="851.5" r="2.45" fill="#000" fill-opacity="0.4" stroke="#000" stroke-opacity="0.42" stroke-width="1.2"/>
<circle cx="672" cy="852.1" r="2.45" fill="#000" fill-opacity="0.4" stroke="#000" stroke-opacity="0.42" stroke-width="1.2"/>
<circle cx="669" cy="861" r="2.45" fill="#000" fill-opacity="0.4" stroke="#000" stroke-opacity="0.42" stroke-width="1.2"/>
<circle cx="666" cy="888.8" r="2.45" fill="#000" fill-opacity="0.4" stroke="#000" stroke-opacity="0.42" stroke-width="1.2"/>
<circle cx="669" cy="888.8" r="2.45" fill="#000" fill-opacity="0.4" stroke="#000" stroke-opacity="0.42" stroke-width="1.2"/>
<circle cx="667.5" cy="893.2" r="2.45" fill="#000" fill-opacity="0.4" stroke="#000" stroke-opacity="0.42" stroke-width="1.2"/>
<circle cx="666" cy="898.3" r="2.45" fill="#000" fill-opacity="0.4" stroke="#000" stroke-opacity="0.42" stroke-width="1.2"/>
<circle cx="663.6" cy="907.2" r="2.45" fill="#000" fill-opacity="0.4" stroke="#000" stroke-opacity="0.42" stroke-width="1.2"/>
<circle cx="668.4" cy="907.2" r="2.45" fill="#000" fill-opacity="0.4" stroke="#000" stroke-opacity="0.42" stroke-width="1.2"/>
<circle cx="667.5" cy="929.9" r="2.45" fill="#000" fill-opacity="0.4" stroke="#000" stroke-opacity="0.42" stroke-width="1.2"/>
<circle cx="663.6" cy="939.4" r="2.45" fill="#000" fill-opacity="0.4" stroke="#000" stroke-opacity="0.42" stroke-width="1.2"/>
<circle cx="666.9" cy="957.3" r="2.45" fill="#000" fill-opacity="0.4" stroke="#000" stroke-opacity="0.42" stroke-width="1.2"/>
<circle cx="671.4" cy="966.8" r="2.45" fill="#000" fill-opacity="0.4" stroke="#000" stroke-opacity="0.42" stroke-width="1.2"/>
<circle cx="707.1" cy="801.5" r="2.45" fill="#000" fill-opacity="0.4" stroke="#000" stroke-opacity="0.42" stroke-width="1.2"/>
<circle cx="715.2" cy="815.2" r="2.45" fill="#000" fill-opacity="0.4" stroke="#000" stroke-opacity="0.42" stroke-width="1.2"/>
<circle cx="708.3" cy="842.6" r="2.45" fill="#000" fill-opacity="0.4" stroke="#000" stroke-opacity="0.42" stroke-width="1.2"/>
<circle cx="715.2" cy="847.6" r="2.45" fill="#000" fill-opacity="0.4" stroke="#000" stroke-opacity="0.42" stroke-width="1.2"/>
<circle cx="710.7" cy="852.1" r="2.45" fill="#000" fill-opacity="0.4" stroke="#000" stroke-opacity="0.42" stroke-width="1.2"/>
<circle cx="715.2" cy="852.1" r="2.45" fill="#000" fill-opacity="0.4" stroke="#000" stroke-opacity="0.42" stroke-width="1.2"/>
<circle cx="710.7" cy="856.6" r="2.45" fill="#000" fill-opacity="0.4" stroke="#000" stroke-opacity="0.42" stroke-width="1.2"/>
<circle cx="713.1" cy="861" r="2.45" fill="#000" fill-opacity="0.4" stroke="#000" stroke-opacity="0.42" stroke-width="1.2"/>
<circle cx="707.7" cy="870" r="2.45" fill="#000" fill-opacity="0.4" stroke="#000" stroke-opacity="0.42" stroke-width="1.2"/>
<circle cx="715.2" cy="870" r="2.45" fill="#000" fill-opacity="0.4" stroke="#000" stroke-opacity="0.42" stroke-width="1.2"/>
<circle cx="713.7" cy="893.2" r="2.45" fill="#000" fill-opacity="0.4" stroke="#000" stroke-opacity="0.42" stroke-width="1.2"/>
<circle cx="709.2" cy="907.2" r="2.45" fill="#000" fill-opacity="0.4" stroke="#000" stroke-opacity="0.42" stroke-width="1.2"/>
<circle cx="709.8" cy="929.9" r="2.45" fill="#000" fill-opacity="0.4" stroke="#000" stroke-opacity="0.42" stroke-width="1.2"/>
<circle cx="714.3" cy="934.4" r="2.45" fill="#000" fill-opacity="0.4" stroke="#000" stroke-opacity="0.42" stroke-width="1.2"/>
<circle cx="758.4" cy="815.2" r="2.45" fill="#000" fill-opacity="0.4" stroke="#000" stroke-opacity="0.42" stroke-width="1.2"/>
<circle cx="757.8" cy="838.1" r="2.45" fill="#000" fill-opacity="0.4" stroke="#000" stroke-opacity="0.42" stroke-width="1.2"/>
<circle cx="753.3" cy="852.1" r="2.45" fill="#000" fill-opacity="0.4" stroke="#000" stroke-opacity="0.42" stroke-width="1.2"/>
<circle cx="757.8" cy="861" r="2.45" fill="#000" fill-opacity="0.4" stroke="#000" stroke-opacity="0.42" stroke-width="1.2"/>
<circle cx="753.9" cy="865.8" r="2.45" fill="#000" fill-opacity="0.4" stroke="#000" stroke-opacity="0.42" stroke-width="1.2"/>
<circle cx="753.3" cy="884.3" r="2.45" fill="#000" fill-opacity="0.4" stroke="#000" stroke-opacity="0.42" stroke-width="1.2"/>
<circle cx="759.3" cy="893.2" r="2.45" fill="#000" fill-opacity="0.4" stroke="#000" stroke-opacity="0.42" stroke-width="1.2"/>
<circle cx="753.3" cy="902.2" r="2.45" fill="#000" fill-opacity="0.4" stroke="#000" stroke-opacity="0.42" stroke-width="1.2"/>
<circle cx="757.8" cy="907.2" r="2.45" fill="#000" fill-opacity="0.4" stroke="#000" stroke-opacity="0.42" stroke-width="1.2"/>
<circle cx="756.3" cy="911.7" r="2.45" fill="#000" fill-opacity="0.4" stroke="#000" stroke-opacity="0.42" stroke-width="1.2"/>
<circle cx="758.4" cy="939.4" r="2.45" fill="#000" fill-opacity="0.4" stroke="#000" stroke-opacity="0.42" stroke-width="1.2"/>
<circle cx="753.3" cy="943.9" r="2.45" fill="#000" fill-opacity="0.4" stroke="#000" stroke-opacity="0.42" stroke-width="1.2"/>
<circle cx="753.9" cy="966.8" r="2.45" fill="#000" fill-opacity="0.4" stroke="#000" stroke-opacity="0.42" stroke-width="1.2"/>
<circle cx="800.1" cy="852.1" r="2.45" fill="#000" fill-opacity="0.4" stroke="#000" stroke-opacity="0.42" stroke-width="1.2"/>
<circle cx="800.1" cy="865.8" r="2.45" fill="#000" fill-opacity="0.4" stroke="#000" stroke-opacity="0.42" stroke-width="1.2"/>
<circle cx="800.7" cy="888.8" r="2.45" fill="#000" fill-opacity="0.4" stroke="#000" stroke-opacity="0.42" stroke-width="1.2"/>
<circle cx="798.6" cy="893.2" r="2.45" fill="#000" fill-opacity="0.4" stroke="#000" stroke-opacity="0.42" stroke-width="1.2"/>
<circle cx="801.6" cy="902.2" r="2.45" fill="#000" fill-opacity="0.4" stroke="#000" stroke-opacity="0.42" stroke-width="1.2"/>
<circle cx="803.7" cy="902.2" r="2.45" fill="#000" fill-opacity="0.4" stroke="#000" stroke-opacity="0.42" stroke-width="1.2"/>
<circle cx="798.6" cy="907.2" r="2.45" fill="#000" fill-opacity="0.4" stroke="#000" stroke-opacity="0.42" stroke-width="1.2"/>
<circle cx="796.5" cy="911.7" r="2.45" fill="#000" fill-opacity="0.4" stroke="#000" stroke-opacity="0.42" stroke-width="1.2"/>
<circle cx="797.1" cy="925.4" r="2.45" fill="#000" fill-opacity="0.4" stroke="#000" stroke-opacity="0.42" stroke-width="1.2"/>
<circle cx="797.7" cy="966.8" r="2.45" fill="#000" fill-opacity="0.4" stroke="#000" stroke-opacity="0.42" stroke-width="1.2"/>
<circle cx="797.7" cy="985" r="2.45" fill="#000" fill-opacity="0.4" stroke="#000" stroke-opacity="0.42" stroke-width="1.2"/>
<circle cx="846.3" cy="879.8" r="2.45" fill="#000" fill-opacity="0.4" stroke="#000" stroke-opacity="0.42" stroke-width="1.2"/>
<circle cx="841.8" cy="884.3" r="2.45" fill="#000" fill-opacity="0.4" stroke="#000" stroke-opacity="0.42" stroke-width="1.2"/>
<circle cx="843.3" cy="897.7" r="2.45" fill="#000" fill-opacity="0.4" stroke="#000" stroke-opacity="0.42" stroke-width="1.2"/>
<circle cx="841.2" cy="907.2" r="2.45" fill="#000" fill-opacity="0.4" stroke="#000" stroke-opacity="0.42" stroke-width="1.2"/>
<circle cx="841.8" cy="911.7" r="2.45" fill="#000" fill-opacity="0.4" stroke="#000" stroke-opacity="0.42" stroke-width="1.2"/>
<circle cx="847.8" cy="916.5" r="2.45" fill="#000" fill-opacity="0.4" stroke="#000" stroke-opacity="0.42" stroke-width="1.2"/>
<circle cx="848.4" cy="943.9" r="2.45" fill="#000" fill-opacity="0.4" stroke="#000" stroke-opacity="0.42" stroke-width="1.2"/>
<circle cx="841.8" cy="957.3" r="2.45" fill="#000" fill-opacity="0.4" stroke="#000" stroke-opacity="0.42" stroke-width="1.2"/>
<circle cx="845.4" cy="994" r="2.45" fill="#000" fill-opacity="0.4" stroke="#000" stroke-opacity="0.42" stroke-width="1.2"/>
<line x1="596.7" y1="687.3" x2="870.7" y2="687.3" stroke="#999" stroke-width="1.4"/>
<line x1="596.7" y1="687.3" x2="596.7" y2="1051.8" stroke="#999" stroke-width="1.4"/>
<line x1="870.7" y1="686.5999999999999" x2="870.7" y2="1052.5" stroke="#444" stroke-width="1.4"/>
<line x1="596.0" y1="1051.8" x2="871.4000000000001" y2="1051.8" stroke="#444" stroke-width="1.4"/>
<line x1="592.7" y1="702.70" x2="596.7" y2="702.70" stroke="#333" stroke-width="1.3"/>
<g transform="translate(550.66,703.00) scale(1.0000,1)"><text x="13.35 26.70" y="0" font-size="24" fill="#000">50</text><path transform="translate(0.00,0) scale(0.01172,-0.01172)" d="M515 0L515 1237L197 1010L197 1180L530 1409L696 1409L696 0Z" fill="#000" stroke="#000" stroke-width="0.3" vector-effect="non-scaling-stroke"/></g>
<line x1="592.7" y1="769.20" x2="596.7" y2="769.20" stroke="#333" stroke-width="1.3"/>
<g transform="translate(550.66,769.50) scale(1.0000,1)"><text x="13.35 26.70" y="0" font-size="24" fill="#000">00</text><path transform="translate(0.00,0) scale(0.01172,-0.01172)" d="M515 0L515 1237L197 1010L197 1180L530 1409L696 1409L696 0Z" fill="#000" stroke="#000" stroke-width="0.3" vector-effect="non-scaling-stroke"/></g>
<line x1="592.7" y1="835.70" x2="596.7" y2="835.70" stroke="#333" stroke-width="1.3"/>
<g transform="translate(564.00,836.00) scale(1.0000,1)"><text x="0.00 13.35" y="0" font-size="24" fill="#000">50</text></g>
<line x1="592.7" y1="902.20" x2="596.7" y2="902.20" stroke="#333" stroke-width="1.3"/>
<g transform="translate(577.35,902.50) scale(1.0000,1)"><text x="0.00" y="0" font-size="24" fill="#000">0</text></g>
<line x1="592.7" y1="968.70" x2="596.7" y2="968.70" stroke="#333" stroke-width="1.3"/>
<g transform="translate(556.01,969.00) scale(1.0000,1)"><text x="0.00 7.99 21.34" y="0" font-size="24" fill="#000">-50</text></g>
<line x1="592.7" y1="1035.20" x2="596.7" y2="1035.20" stroke="#333" stroke-width="1.3"/>
<g transform="translate(542.66,1035.50) scale(1.0000,1)"><text x="0.00 21.34 34.69" y="0" font-size="24" fill="#000">-00</text><path transform="translate(7.99,0) scale(0.01172,-0.01172)" d="M515 0L515 1237L197 1010L197 1180L530 1409L696 1409L696 0Z" fill="#000" stroke="#000" stroke-width="0.3" vector-effect="non-scaling-stroke"/></g>
<line x1="622.90" y1="1051.8" x2="622.90" y2="1055.3" stroke="#333" stroke-width="1.3"/>
<g transform="translate(608.90,1075.60) scale(1.0000,1)"><text x="0.00" y="0" font-size="24" fill="#000">T</text><path transform="translate(14.66,0) scale(0.01172,-0.01172)" d="M515 0L515 1237L197 1010L197 1180L530 1409L696 1409L696 0Z" fill="#000" stroke="#000" stroke-width="0.3" vector-effect="non-scaling-stroke"/></g>
<line x1="667.17" y1="1051.8" x2="667.17" y2="1055.3" stroke="#333" stroke-width="1.3"/>
<g transform="translate(653.17,1075.60) scale(1.0000,1)"><text x="0.00 14.66" y="0" font-size="24" fill="#000">T2</text></g>
<line x1="711.44" y1="1051.8" x2="711.44" y2="1055.3" stroke="#333" stroke-width="1.3"/>
<g transform="translate(697.44,1075.60) scale(1.0000,1)"><text x="0.00 14.66" y="0" font-size="24" fill="#000">T3</text></g>
<line x1="755.71" y1="1051.8" x2="755.71" y2="1055.3" stroke="#333" stroke-width="1.3"/>
<g transform="translate(747.04,1075.60) scale(1.0000,1)"><text x="0.00" y="0" font-size="24" fill="#000">D</text></g>
<line x1="799.98" y1="1051.8" x2="799.98" y2="1055.3" stroke="#333" stroke-width="1.3"/>
<g transform="translate(777.30,1075.60) scale(1.0000,1)"><text x="13.35 29.36" y="0" font-size="24" fill="#000">PP</text><path transform="translate(0.00,0) scale(0.01172,-0.01172)" d="M515 0L515 1237L197 1010L197 1180L530 1409L696 1409L696 0Z" fill="#000" stroke="#000" stroke-width="0.3" vector-effect="non-scaling-stroke"/></g>
<line x1="844.25" y1="1051.8" x2="844.25" y2="1055.3" stroke="#333" stroke-width="1.3"/>
<g transform="translate(821.57,1075.60) scale(1.0000,1)"><text x="0.00 13.35 29.36" y="0" font-size="24" fill="#000">3PP</text></g>
<rect x="534.9" y="1015.2" width="12" height="25" fill="#fff"/>
<text x="733.70" y="1108.2" font-size="23.5" fill="#000" text-anchor="middle">Timepoint</text>
<text x="951.0999999999999" y="631.5" font-size="27.8" font-weight="bold" fill="#000">D</text>
<text x="1010.2" y="636.1" font-size="25.8" fill="#000" textLength="162.8" lengthAdjust="spacing">Inflammation</text>
<g transform="translate(1021.10,671.70) scale(1.0071,1)"><text x="0.00 32.51 45.52 52.02 65.04 78.05 84.55 91.05 105.35 113.14 119.64 132.65 153.46 174.27 187.28 195.07 201.57 215.87" y="0" font-size="23.4" font-weight="bold" fill="#000">M4.50.Inflammation</text><path transform="translate(19.49,0) scale(0.01143,-0.01143)" d="M478 0L478 1170L140 959L140 1180L493 1409L759 1409L759 0Z" fill="#000" stroke="#000" stroke-width="0.3" vector-effect="non-scaling-stroke"/></g>
<line x1="1022.1" y1="734.10" x2="1295.8" y2="734.10" stroke="#f0f0f0" stroke-width="1"/>
<line x1="1022.1" y1="800.70" x2="1295.8" y2="800.70" stroke="#f0f0f0" stroke-width="1"/>
<line x1="1022.1" y1="867.30" x2="1295.8" y2="867.30" stroke="#f0f0f0" stroke-width="1"/>
<line x1="1022.1" y1="933.90" x2="1295.8" y2="933.90" stroke="#f0f0f0" stroke-width="1"/>
<line x1="1022.1" y1="1000.50" x2="1295.8" y2="1000.50" stroke="#f0f0f0" stroke-width="1"/>
<line x1="1022.1" y1="700.80" x2="1295.8" y2="700.80" stroke="#e8e8e8" stroke-width="1.5"/>
<line x1="1022.1" y1="767.40" x2="1295.8" y2="767.40" stroke="#e8e8e8" stroke-width="1.5"/>
<line x1="1022.1" y1="834.00" x2="1295.8" y2="834.00" stroke="#e8e8e8" stroke-width="1.5"/>
<line x1="1022.1" y1="900.60" x2="1295.8" y2="900.60" stroke="#e8e8e8" stroke-width="1.5"/>
<line x1="1022.1" y1="967.20" x2="1295.8" y2="967.20" stroke="#e8e8e8" stroke-width="1.5"/>
<line x1="1022.1" y1="1033.80" x2="1295.8" y2="1033.80" stroke="#e8e8e8" stroke-width="1.5"/>
<line x1="1048.40" y1="684.3" x2="1048.40" y2="1049.5" stroke="#e8e8e8" stroke-width="1.5"/>
<line x1="1092.60" y1="684.3" x2="1092.60" y2="1049.5" stroke="#e8e8e8" stroke-width="1.5"/>
<line x1="1136.80" y1="684.3" x2="1136.80" y2="1049.5" stroke="#e8e8e8" stroke-width="1.5"/>
<line x1="1181.00" y1="684.3" x2="1181.00" y2="1049.5" stroke="#e8e8e8" stroke-width="1.5"/>
<line x1="1225.20" y1="684.3" x2="1225.20" y2="1049.5" stroke="#e8e8e8" stroke-width="1.5"/>
<line x1="1269.40" y1="684.3" x2="1269.40" y2="1049.5" stroke="#e8e8e8" stroke-width="1.5"/>
<polyline points="1048.40,708.4 1048.40,703.4 1225.20,703.4 1225.20,708.4" fill="none" stroke="#333" stroke-width="1.3"/>
<text x="1136.80" y="699.9" font-size="20.8" fill="#111" text-anchor="middle">ns</text>
<polyline points="1092.60,728.7 1092.60,723.7 1225.20,723.7 1225.20,728.7" fill="none" stroke="#333" stroke-width="1.3"/>
<text x="1158.90" y="718.8" font-size="18.5" fill="#111" text-anchor="middle">**</text>
<polyline points="1136.80,748.1 1136.80,743.1 1225.20,743.1 1225.20,748.1" fill="none" stroke="#333" stroke-width="1.3"/>
<text x="1181.00" y="738.6" font-size="18.5" fill="#111" text-anchor="middle">**</text>
<polyline points="1181.00,775.2 1181.00,770.2 1225.20,770.2 1225.20,775.2" fill="none" stroke="#333" stroke-width="1.3"/>
<text x="1203.10" y="764.9" font-size="18.5" fill="#111" text-anchor="middle">**</text>
<line x1="1048.40" y1="827.9" x2="1048.40" y2="864.2" stroke="#222" stroke-width="1.8"/>
<line x1="1048.40" y1="900.5" x2="1048.40" y2="940.9" stroke="#222" stroke-width="1.8"/>
<rect x="1037.10" y="864.2" width="22.6" height="36.30" fill="#ff7f00" stroke="#333" stroke-width="1.8"/>
<line x1="1037.10" y1="889.5" x2="1059.70" y2="889.5" stroke="#333" stroke-width="3"/>
<line x1="1092.60" y1="787.8" x2="1092.60" y2="823.2" stroke="#222" stroke-width="1.8"/>
<line x1="1092.60" y1="890.1" x2="1092.60" y2="900.5" stroke="#222" stroke-width="1.8"/>
<rect x="1081.30" y="823.2" width="22.6" height="66.90" fill="#ffff00" stroke="#333" stroke-width="1.8"/>
<line x1="1081.30" y1="869.6" x2="1103.90" y2="869.6" stroke="#333" stroke-width="3"/>
<line x1="1136.80" y1="778.3" x2="1136.80" y2="808" stroke="#222" stroke-width="1.8"/>
<line x1="1136.80" y1="895.1" x2="1136.80" y2="909" stroke="#222" stroke-width="1.8"/>
<rect x="1125.50" y="808" width="22.6" height="87.10" fill="#1035c8" stroke="#333" stroke-width="1.8"/>
<line x1="1125.50" y1="849" x2="1148.10" y2="849" stroke="#333" stroke-width="3"/>
<line x1="1181.00" y1="777.4" x2="1181.00" y2="802.6" stroke="#222" stroke-width="1.8"/>
<line x1="1181.00" y1="869.6" x2="1181.00" y2="890.1" stroke="#222" stroke-width="1.8"/>
<rect x="1169.70" y="802.6" width="22.6" height="67.00" fill="#d6d6d6" stroke="#333" stroke-width="1.8"/>
<line x1="1169.70" y1="838.9" x2="1192.30" y2="838.9" stroke="#333" stroke-width="3"/>
<line x1="1225.20" y1="889.5" x2="1225.20" y2="899.6" stroke="#222" stroke-width="1.8"/>
<line x1="1225.20" y1="910.6" x2="1225.20" y2="910.6" stroke="#222" stroke-width="1.8"/>
<rect x="1213.90" y="899.6" width="22.6" height="11.00" fill="#fdd27a" stroke="#333" stroke-width="1.8"/>
<line x1="1213.90" y1="899.6" x2="1236.50" y2="899.6" stroke="#333" stroke-width="3"/>
<line x1="1269.40" y1="869.6" x2="1269.40" y2="899.9" stroke="#222" stroke-width="1.8"/>
<line x1="1269.40" y1="966.8" x2="1269.40" y2="982" stroke="#222" stroke-width="1.8"/>
<rect x="1258.10" y="899.9" width="22.6" height="66.90" fill="#5bbcf5" stroke="#333" stroke-width="1.8"/>
<line x1="1258.10" y1="910.6" x2="1280.70" y2="910.6" stroke="#333" stroke-width="3"/>
<circle cx="1048.5" cy="808" r="2.45" fill="#000" fill-opacity="0.4" stroke="#000" stroke-opacity="0.42" stroke-width="1.2"/>
<circle cx="1046.3" cy="828.5" r="2.45" fill="#000" fill-opacity="0.4" stroke="#000" stroke-opacity="0.42" stroke-width="1.2"/>
<circle cx="1047.3" cy="859.5" r="2.45" fill="#000" fill-opacity="0.4" stroke="#000" stroke-opacity="0.42" stroke-width="1.2"/>
<circle cx="1051" cy="869.6" r="2.45" fill="#000" fill-opacity="0.4" stroke="#000" stroke-opacity="0.42" stroke-width="1.2"/>
<circle cx="1046.9" cy="879.4" r="2.45" fill="#000" fill-opacity="0.4" stroke="#000" stroke-opacity="0.42" stroke-width="1.2"/>
<circle cx="1048.8" cy="889.5" r="2.45" fill="#000" fill-opacity="0.4" stroke="#000" stroke-opacity="0.42" stroke-width="1.2"/>
<circle cx="1051" cy="889.5" r="2.45" fill="#000" fill-opacity="0.4" stroke="#000" stroke-opacity="0.42" stroke-width="1.2"/>
<circle cx="1049.5" cy="899.9" r="2.45" fill="#000" fill-opacity="0.4" stroke="#000" stroke-opacity="0.42" stroke-width="1.2"/>
<circle cx="1047.9" cy="910.6" r="2.45" fill="#000" fill-opacity="0.4" stroke="#000" stroke-opacity="0.42" stroke-width="1.2"/>
<circle cx="1044.7" cy="921" r="2.45" fill="#000" fill-opacity="0.4" stroke="#000" stroke-opacity="0.42" stroke-width="1.2"/>
<circle cx="1048.8" cy="940.9" r="2.45" fill="#000" fill-opacity="0.4" stroke="#000" stroke-opacity="0.42" stroke-width="1.2"/>
<circle cx="1088" cy="787.8" r="2.45" fill="#000" fill-opacity="0.4" stroke="#000" stroke-opacity="0.42" stroke-width="1.2"/>
<circle cx="1089.9" cy="808" r="2.45" fill="#000" fill-opacity="0.4" stroke="#000" stroke-opacity="0.42" stroke-width="1.2"/>
<circle cx="1093.7" cy="808" r="2.45" fill="#000" fill-opacity="0.4" stroke="#000" stroke-opacity="0.42" stroke-width="1.2"/>
<circle cx="1088.9" cy="838.9" r="2.45" fill="#000" fill-opacity="0.4" stroke="#000" stroke-opacity="0.42" stroke-width="1.2"/>
<circle cx="1093.7" cy="838.9" r="2.45" fill="#000" fill-opacity="0.4" stroke="#000" stroke-opacity="0.42" stroke-width="1.2"/>
<circle cx="1095.3" cy="869.6" r="2.45" fill="#000" fill-opacity="0.4" stroke="#000" stroke-opacity="0.42" stroke-width="1.2"/>
<circle cx="1093" cy="879.4" r="2.45" fill="#000" fill-opacity="0.4" stroke="#000" stroke-opacity="0.42" stroke-width="1.2"/>
<circle cx="1094.3" cy="889.5" r="2.45" fill="#000" fill-opacity="0.4" stroke="#000" stroke-opacity="0.42" stroke-width="1.2"/>
<circle cx="1095.9" cy="889.5" r="2.45" fill="#000" fill-opacity="0.4" stroke="#000" stroke-opacity="0.42" stroke-width="1.2"/>
<circle cx="1088" cy="900.5" r="2.45" fill="#000" fill-opacity="0.4" stroke="#000" stroke-opacity="0.42" stroke-width="1.2"/>
<circle cx="1090.5" cy="900.5" r="2.45" fill="#000" fill-opacity="0.4" stroke="#000" stroke-opacity="0.42" stroke-width="1.2"/>
<circle cx="1132.5" cy="777.4" r="2.45" fill="#000" fill-opacity="0.4" stroke="#000" stroke-opacity="0.42" stroke-width="1.2"/>
<circle cx="1134.1" cy="808" r="2.45" fill="#000" fill-opacity="0.4" stroke="#000" stroke-opacity="0.42" stroke-width="1.2"/>
<circle cx="1134.1" cy="808" r="2.45" fill="#000" fill-opacity="0.4" stroke="#000" stroke-opacity="0.42" stroke-width="1.2"/>
<circle cx="1134.6" cy="808.3" r="2.45" fill="#000" fill-opacity="0.4" stroke="#000" stroke-opacity="0.42" stroke-width="1.2"/>
<circle cx="1141" cy="808" r="2.45" fill="#000" fill-opacity="0.4" stroke="#000" stroke-opacity="0.42" stroke-width="1.2"/>
<circle cx="1137.2" cy="838.9" r="2.45" fill="#000" fill-opacity="0.4" stroke="#000" stroke-opacity="0.42" stroke-width="1.2"/>
<circle cx="1139.5" cy="849" r="2.45" fill="#000" fill-opacity="0.4" stroke="#000" stroke-opacity="0.42" stroke-width="1.2"/>
<circle cx="1140.4" cy="869.6" r="2.45" fill="#000" fill-opacity="0.4" stroke="#000" stroke-opacity="0.42" stroke-width="1.2"/>
<circle cx="1134.1" cy="879.4" r="2.45" fill="#000" fill-opacity="0.4" stroke="#000" stroke-opacity="0.42" stroke-width="1.2"/>
<circle cx="1136.3" cy="889.5" r="2.45" fill="#000" fill-opacity="0.4" stroke="#000" stroke-opacity="0.42" stroke-width="1.2"/>
<circle cx="1133.8" cy="899.9" r="2.45" fill="#000" fill-opacity="0.4" stroke="#000" stroke-opacity="0.42" stroke-width="1.2"/>
<circle cx="1137.9" cy="899.9" r="2.45" fill="#000" fill-opacity="0.4" stroke="#000" stroke-opacity="0.42" stroke-width="1.2"/>
<circle cx="1141" cy="910.6" r="2.45" fill="#000" fill-opacity="0.4" stroke="#000" stroke-opacity="0.42" stroke-width="1.2"/>
<circle cx="1175.8" cy="777.4" r="2.45" fill="#000" fill-opacity="0.4" stroke="#000" stroke-opacity="0.42" stroke-width="1.2"/>
<circle cx="1179.9" cy="777.4" r="2.45" fill="#000" fill-opacity="0.4" stroke="#000" stroke-opacity="0.42" stroke-width="1.2"/>
<circle cx="1185.2" cy="777.4" r="2.45" fill="#000" fill-opacity="0.4" stroke="#000" stroke-opacity="0.42" stroke-width="1.2"/>
<circle cx="1178.3" cy="787.8" r="2.45" fill="#000" fill-opacity="0.4" stroke="#000" stroke-opacity="0.42" stroke-width="1.2"/>
<circle cx="1178" cy="818.4" r="2.45" fill="#000" fill-opacity="0.4" stroke="#000" stroke-opacity="0.42" stroke-width="1.2"/>
<circle cx="1180.5" cy="818.4" r="2.45" fill="#000" fill-opacity="0.4" stroke="#000" stroke-opacity="0.42" stroke-width="1.2"/>
<circle cx="1179.2" cy="818.4" r="2.45" fill="#000" fill-opacity="0.4" stroke="#000" stroke-opacity="0.42" stroke-width="1.2"/>
<circle cx="1179.2" cy="818.4" r="2.45" fill="#000" fill-opacity="0.4" stroke="#000" stroke-opacity="0.42" stroke-width="1.2"/>
<circle cx="1180.5" cy="838.9" r="2.45" fill="#000" fill-opacity="0.4" stroke="#000" stroke-opacity="0.42" stroke-width="1.2"/>
<circle cx="1179.9" cy="849" r="2.45" fill="#000" fill-opacity="0.4" stroke="#000" stroke-opacity="0.42" stroke-width="1.2"/>
<circle cx="1176.7" cy="859.5" r="2.45" fill="#000" fill-opacity="0.4" stroke="#000" stroke-opacity="0.42" stroke-width="1.2"/>
<circle cx="1184.6" cy="859.5" r="2.45" fill="#000" fill-opacity="0.4" stroke="#000" stroke-opacity="0.42" stroke-width="1.2"/>
<circle cx="1178.9" cy="879.4" r="2.45" fill="#000" fill-opacity="0.4" stroke="#000" stroke-opacity="0.42" stroke-width="1.2"/>
<circle cx="1177.3" cy="890.1" r="2.45" fill="#000" fill-opacity="0.4" stroke="#000" stroke-opacity="0.42" stroke-width="1.2"/>
<circle cx="1182.1" cy="890.1" r="2.45" fill="#000" fill-opacity="0.4" stroke="#000" stroke-opacity="0.42" stroke-width="1.2"/>
<circle cx="1185.2" cy="982" r="2.45" fill="#000" fill-opacity="0.4" stroke="#000" stroke-opacity="0.42" stroke-width="1.2"/>
<circle cx="1226.9" cy="808" r="2.45" fill="#000" fill-opacity="0.4" stroke="#000" stroke-opacity="0.42" stroke-width="1.2"/>
<circle cx="1225.3" cy="879.4" r="2.45" fill="#000" fill-opacity="0.4" stroke="#000" stroke-opacity="0.42" stroke-width="1.2"/>
<circle cx="1227.2" cy="889.5" r="2.45" fill="#000" fill-opacity="0.4" stroke="#000" stroke-opacity="0.42" stroke-width="1.2"/>
<circle cx="1224.1" cy="899.9" r="2.45" fill="#000" fill-opacity="0.4" stroke="#000" stroke-opacity="0.42" stroke-width="1.2"/>
<circle cx="1227.9" cy="899.9" r="2.45" fill="#000" fill-opacity="0.4" stroke="#000" stroke-opacity="0.42" stroke-width="1.2"/>
<circle cx="1226" cy="899.9" r="2.45" fill="#000" fill-opacity="0.4" stroke="#000" stroke-opacity="0.42" stroke-width="1.2"/>
<circle cx="1226" cy="899.9" r="2.45" fill="#000" fill-opacity="0.4" stroke="#000" stroke-opacity="0.42" stroke-width="1.2"/>
<circle cx="1222.2" cy="910.6" r="2.45" fill="#000" fill-opacity="0.4" stroke="#000" stroke-opacity="0.42" stroke-width="1.2"/>
<circle cx="1227" cy="961.8" r="2.45" fill="#000" fill-opacity="0.4" stroke="#000" stroke-opacity="0.42" stroke-width="1.2"/>
<circle cx="1227" cy="961.8" r="2.45" fill="#000" fill-opacity="0.4" stroke="#000" stroke-opacity="0.42" stroke-width="1.2"/>
<circle cx="1227" cy="961.8" r="2.45" fill="#000" fill-opacity="0.4" stroke="#000" stroke-opacity="0.42" stroke-width="1.2"/>
<circle cx="1227" cy="961.8" r="2.45" fill="#000" fill-opacity="0.4" stroke="#000" stroke-opacity="0.42" stroke-width="1.2"/>
<circle cx="1268.3" cy="869.6" r="2.45" fill="#000" fill-opacity="0.4" stroke="#000" stroke-opacity="0.42" stroke-width="1.2"/>
<circle cx="1265.1" cy="899.9" r="2.45" fill="#000" fill-opacity="0.4" stroke="#000" stroke-opacity="0.42" stroke-width="1.2"/>
<circle cx="1272.1" cy="899.9" r="2.45" fill="#000" fill-opacity="0.4" stroke="#000" stroke-opacity="0.42" stroke-width="1.2"/>
<circle cx="1268.9" cy="910.6" r="2.45" fill="#000" fill-opacity="0.4" stroke="#000" stroke-opacity="0.42" stroke-width="1.2"/>
<circle cx="1273.7" cy="910.6" r="2.45" fill="#000" fill-opacity="0.4" stroke="#000" stroke-opacity="0.42" stroke-width="1.2"/>
<circle cx="1268.3" cy="921" r="2.45" fill="#000" fill-opacity="0.4" stroke="#000" stroke-opacity="0.42" stroke-width="1.2"/>
<circle cx="1272.7" cy="951" r="2.45" fill="#000" fill-opacity="0.4" stroke="#000" stroke-opacity="0.42" stroke-width="1.2"/>
<circle cx="1268.3" cy="961.5" r="2.45" fill="#000" fill-opacity="0.4" stroke="#000" stroke-opacity="0.42" stroke-width="1.2"/>
<circle cx="1267.3" cy="971.6" r="2.45" fill="#000" fill-opacity="0.4" stroke="#000" stroke-opacity="0.42" stroke-width="1.2"/>
<circle cx="1272.8" cy="982" r="2.45" fill="#000" fill-opacity="0.4" stroke="#000" stroke-opacity="0.42" stroke-width="1.2"/>
<circle cx="1272.8" cy="982" r="2.45" fill="#000" fill-opacity="0.4" stroke="#000" stroke-opacity="0.42" stroke-width="1.2"/>
<circle cx="1272.8" cy="982" r="2.45" fill="#000" fill-opacity="0.4" stroke="#000" stroke-opacity="0.42" stroke-width="1.2"/>
<circle cx="1272.8" cy="982" r="2.45" fill="#000" fill-opacity="0.4" stroke="#000" stroke-opacity="0.42" stroke-width="1.2"/>
<line x1="1022.1" y1="684.3" x2="1295.8" y2="684.3" stroke="#999" stroke-width="1.4"/>
<line x1="1022.1" y1="684.3" x2="1022.1" y2="1049.5" stroke="#999" stroke-width="1.4"/>
<line x1="1295.8" y1="683.5999999999999" x2="1295.8" y2="1050.2" stroke="#444" stroke-width="1.4"/>
<line x1="1021.4" y1="1049.5" x2="1296.5" y2="1049.5" stroke="#444" stroke-width="1.4"/>
<line x1="1018.1" y1="700.80" x2="1022.1" y2="700.80" stroke="#333" stroke-width="1.3"/>
<g transform="translate(974.66,701.10) scale(1.0000,1)"><text x="13.35 26.70" y="0" font-size="24" fill="#000">50</text><path transform="translate(0.00,0) scale(0.01172,-0.01172)" d="M515 0L515 1237L197 1010L197 1180L530 1409L696 1409L696 0Z" fill="#000" stroke="#000" stroke-width="0.3" vector-effect="non-scaling-stroke"/></g>
<line x1="1018.1" y1="767.40" x2="1022.1" y2="767.40" stroke="#333" stroke-width="1.3"/>
<g transform="translate(974.66,767.70) scale(1.0000,1)"><text x="13.35 26.70" y="0" font-size="24" fill="#000">00</text><path transform="translate(0.00,0) scale(0.01172,-0.01172)" d="M515 0L515 1237L197 1010L197 1180L530 1409L696 1409L696 0Z" fill="#000" stroke="#000" stroke-width="0.3" vector-effect="non-scaling-stroke"/></g>
<line x1="1018.1" y1="834.00" x2="1022.1" y2="834.00" stroke="#333" stroke-width="1.3"/>
<g transform="translate(988.00,834.30) scale(1.0000,1)"><text x="0.00 13.35" y="0" font-size="24" fill="#000">50</text></g>
<line x1="1018.1" y1="900.60" x2="1022.1" y2="900.60" stroke="#333" stroke-width="1.3"/>
<g transform="translate(1001.35,900.90) scale(1.0000,1)"><text x="0.00" y="0" font-size="24" fill="#000">0</text></g>
<line x1="1018.1" y1="967.20" x2="1022.1" y2="967.20" stroke="#333" stroke-width="1.3"/>
<g transform="translate(980.01,967.50) scale(1.0000,1)"><text x="0.00 7.99 21.34" y="0" font-size="24" fill="#000">-50</text></g>
<line x1="1018.1" y1="1033.80" x2="1022.1" y2="1033.80" stroke="#333" stroke-width="1.3"/>
<g transform="translate(966.66,1034.10) scale(1.0000,1)"><text x="0.00 21.34 34.69" y="0" font-size="24" fill="#000">-00</text><path transform="translate(7.99,0) scale(0.01172,-0.01172)" d="M515 0L515 1237L197 1010L197 1180L530 1409L696 1409L696 0Z" fill="#000" stroke="#000" stroke-width="0.3" vector-effect="non-scaling-stroke"/></g>
<line x1="1048.40" y1="1049.5" x2="1048.40" y2="1053.0" stroke="#333" stroke-width="1.3"/>
<g transform="translate(1034.40,1073.00) scale(1.0000,1)"><text x="0.00" y="0" font-size="24" fill="#000">T</text><path transform="translate(14.66,0) scale(0.01172,-0.01172)" d="M515 0L515 1237L197 1010L197 1180L530 1409L696 1409L696 0Z" fill="#000" stroke="#000" stroke-width="0.3" vector-effect="non-scaling-stroke"/></g>
<line x1="1092.60" y1="1049.5" x2="1092.60" y2="1053.0" stroke="#333" stroke-width="1.3"/>
<g transform="translate(1078.60,1073.00) scale(1.0000,1)"><text x="0.00 14.66" y="0" font-size="24" fill="#000">T2</text></g>
<line x1="1136.80" y1="1049.5" x2="1136.80" y2="1053.0" stroke="#333" stroke-width="1.3"/>
<g transform="translate(1122.80,1073.00) scale(1.0000,1)"><text x="0.00 14.66" y="0" font-size="24" fill="#000">T3</text></g>
<line x1="1181.00" y1="1049.5" x2="1181.00" y2="1053.0" stroke="#333" stroke-width="1.3"/>
<g transform="translate(1172.33,1073.00) scale(1.0000,1)"><text x="0.00" y="0" font-size="24" fill="#000">D</text></g>
<line x1="1225.20" y1="1049.5" x2="1225.20" y2="1053.0" stroke="#333" stroke-width="1.3"/>
<g transform="translate(1202.52,1073.00) scale(1.0000,1)"><text x="13.35 29.36" y="0" font-size="24" fill="#000">PP</text><path transform="translate(0.00,0) scale(0.01172,-0.01172)" d="M515 0L515 1237L197 1010L197 1180L530 1409L696 1409L696 0Z" fill="#000" stroke="#000" stroke-width="0.3" vector-effect="non-scaling-stroke"/></g>
<line x1="1269.40" y1="1049.5" x2="1269.40" y2="1053.0" stroke="#333" stroke-width="1.3"/>
<g transform="translate(1246.72,1073.00) scale(1.0000,1)"><text x="0.00 13.35 29.36" y="0" font-size="24" fill="#000">3PP</text></g>
<rect x="959.9" y="1013.8" width="12" height="25" fill="#fff"/>
<text x="1158.95" y="1105.7" font-size="23.5" fill="#000" text-anchor="middle">Timepoint</text>
</svg></body></html>
